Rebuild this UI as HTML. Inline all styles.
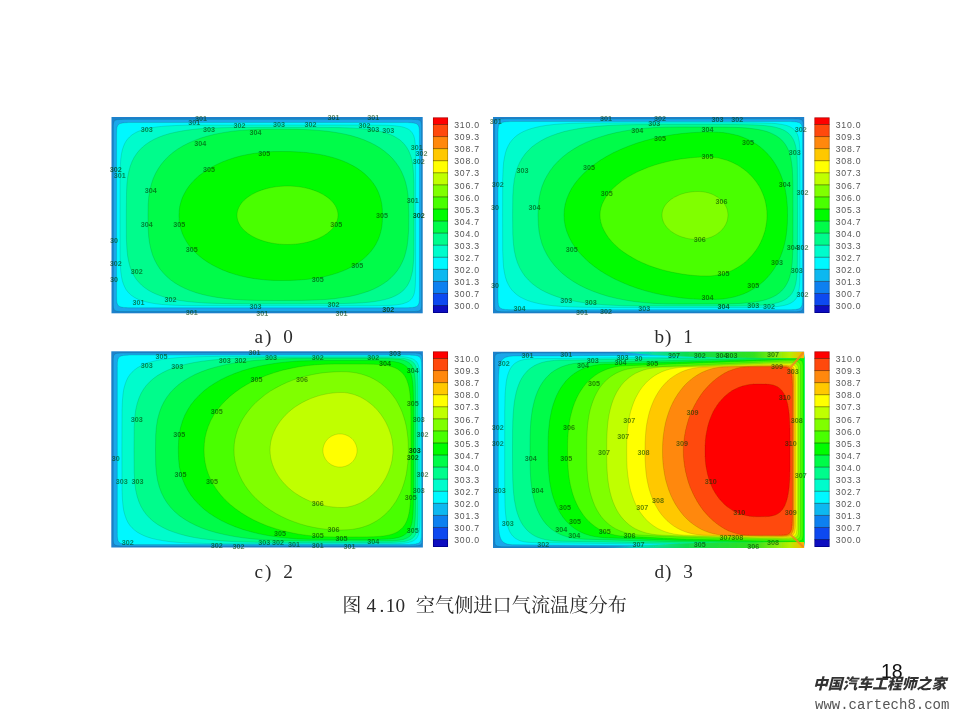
<!DOCTYPE html>
<html lang="zh"><head><meta charset="utf-8"><title>图 4.10 空气侧进口气流温度分布</title>
<style>
html,body{margin:0;padding:0;background:#fff;}
body{width:960px;height:720px;position:relative;overflow:hidden;font-family:"Liberation Serif","Noto Serif CJK SC",serif;}
.cl{font-family:"Liberation Sans",sans-serif;font-size:8.7px;letter-spacing:0.8px;fill:#555;}
.tk{font-family:"Liberation Sans",sans-serif;font-size:7.2px;font-weight:bold;fill:#003808;text-anchor:middle;}
.t{position:absolute;white-space:pre;color:#2a2a2a;font-size:19.2px;line-height:24px;height:24px;font-family:"Liberation Serif","Noto Serif CJK SC",serif;}
.cap{letter-spacing:0;}
.pg{position:absolute;left:880.9px;top:659.9px;font-family:"Liberation Sans",sans-serif;font-size:19.5px;line-height:22px;color:#111;}
.wm{position:absolute;left:813px;top:673px;width:136px;font-family:"Liberation Sans","Noto Sans CJK SC",sans-serif;font-weight:900;font-style:italic;font-size:14.8px;line-height:22px;color:#333;white-space:nowrap;}
.url{position:absolute;left:815px;top:696px;font-family:"Liberation Mono",monospace;font-size:14px;line-height:18px;color:#555;white-space:nowrap;}
</style></head><body>
<svg width="960" height="720" viewBox="0 0 960 720" style="position:absolute;left:0;top:0">
<defs><linearGradient id="wg" gradientUnits="userSpaceOnUse" x1="600" y1="0" x2="804" y2="0"><stop offset="0" stop-color="#10d0e0" stop-opacity="0"/><stop offset="0.2" stop-color="#00e8b0" stop-opacity="0.85"/><stop offset="0.42" stop-color="#10dc50"/><stop offset="0.75" stop-color="#30e020"/><stop offset="0.93" stop-color="#b8ee00"/><stop offset="1" stop-color="#ffb000"/></linearGradient><filter id="bl" x="-2%" y="-2%" width="104%" height="104%"><feGaussianBlur stdDeviation="0.7"/></filter><filter id="bt" x="-5%" y="-5%" width="110%" height="110%"><feGaussianBlur stdDeviation="0.4"/></filter><filter id="bk" x="-5%" y="-5%" width="110%" height="110%"><feGaussianBlur stdDeviation="0.7"/></filter></defs>
<clipPath id="cpA"><rect x="111.5" y="117" width="311" height="196.3"/></clipPath><clipPath id="cpD"><rect x="493" y="351.5" width="311.3" height="196.5"/></clipPath>
<g filter="url(#bl)">
<rect x="111.5" y="117.0" width="311.2" height="196.3" fill="#1f82cc"/>
<polygon points="113.3,215.5 113.3,127.7 113.3,125.6 113.4,124.4 113.5,123.5 113.6,122.9 113.7,122.3 113.9,121.9 114.0,121.5 114.2,121.2 114.5,120.9 114.8,120.6 115.1,120.4 115.4,120.2 115.8,120.0 116.3,119.9 116.8,119.8 117.4,119.6 118.2,119.6 119.0,119.5 120.1,119.4 121.5,119.4 123.4,119.3 126.7,119.3 223.0,119.3 408.2,119.3 411.5,119.3 413.4,119.4 414.8,119.4 415.9,119.5 416.7,119.6 417.5,119.6 418.1,119.8 418.6,119.9 419.1,120.0 419.5,120.2 419.8,120.4 420.1,120.6 420.4,120.9 420.7,121.2 420.9,121.5 421.0,121.9 421.2,122.3 421.3,122.9 421.4,123.5 421.5,124.4 421.6,125.6 421.6,127.7 421.6,215.5 421.6,303.2 421.6,305.3 421.5,306.5 421.4,307.4 421.3,308.0 421.2,308.6 421.0,309.0 420.9,309.4 420.7,309.7 420.4,310.0 420.1,310.3 419.8,310.5 419.5,310.7 419.1,310.9 418.6,311.0 418.1,311.1 417.5,311.3 416.7,311.3 415.9,311.4 414.8,311.5 413.4,311.5 411.5,311.6 408.2,311.6 311.9,311.6 126.7,311.6 123.4,311.6 121.5,311.5 120.1,311.5 119.0,311.4 118.2,311.3 117.4,311.3 116.8,311.1 116.3,311.0 115.8,310.9 115.4,310.7 115.1,310.5 114.8,310.3 114.5,310.0 114.2,309.7 114.0,309.4 113.9,309.0 113.7,308.6 113.6,308.0 113.5,307.4 113.4,306.5 113.3,305.3 113.3,303.2" fill="#1aa6ea" stroke="rgba(0,40,0,0.22)" stroke-width="0.6"/>
<polygon points="116.6,215.2 116.6,134.3 116.7,131.5 116.7,129.8 116.9,128.6 117.0,127.6 117.2,126.8 117.4,126.2 117.7,125.7 118.0,125.2 118.3,124.8 118.7,124.4 119.2,124.1 119.7,123.8 120.3,123.6 121.0,123.4 121.8,123.2 122.7,123.0 123.7,122.9 125.0,122.8 126.5,122.7 128.5,122.6 131.3,122.5 135.9,122.5 244.6,122.5 400.1,122.5 404.7,122.5 407.5,122.6 409.5,122.7 411.0,122.8 412.3,122.9 413.3,123.0 414.2,123.2 415.0,123.4 415.7,123.6 416.3,123.8 416.8,124.1 417.3,124.4 417.7,124.8 418.0,125.2 418.3,125.7 418.6,126.2 418.8,126.8 419.0,127.6 419.1,128.6 419.3,129.8 419.3,131.5 419.4,134.3 419.4,215.2 419.4,296.0 419.3,298.8 419.3,300.5 419.1,301.7 419.0,302.7 418.8,303.5 418.6,304.1 418.3,304.6 418.0,305.1 417.7,305.5 417.3,305.9 416.8,306.2 416.3,306.5 415.7,306.7 415.0,306.9 414.2,307.1 413.3,307.3 412.3,307.4 411.0,307.5 409.5,307.6 407.5,307.7 404.7,307.8 400.1,307.8 291.4,307.8 135.9,307.8 131.3,307.8 128.5,307.7 126.5,307.6 125.0,307.5 123.7,307.4 122.7,307.3 121.8,307.1 121.0,306.9 120.3,306.7 119.7,306.5 119.2,306.2 118.7,305.9 118.3,305.5 118.0,305.1 117.7,304.6 117.4,304.1 117.2,303.5 117.0,302.7 116.9,301.7 116.7,300.5 116.7,298.8 116.6,296.0" fill="#00f8ff" stroke="rgba(0,40,0,0.22)" stroke-width="0.6"/>
<polygon points="120.0,215.0 120.1,173.7 120.4,164.7 120.8,158.6 121.5,153.8 122.3,149.9 123.4,146.6 124.6,143.7 126.0,141.2 127.7,138.9 129.6,136.9 131.7,135.1 134.1,133.5 136.8,132.0 139.8,130.8 143.2,129.6 146.9,128.6 151.2,127.8 156.0,127.0 161.5,126.4 168.1,125.9 176.0,125.5 186.2,125.2 201.2,125.1 270.0,125.0 368.6,125.0 378.9,125.1 385.3,125.2 390.0,125.4 393.8,125.7 396.9,126.0 399.6,126.4 401.9,126.8 403.9,127.3 405.6,127.9 407.2,128.6 408.6,129.3 409.8,130.2 410.9,131.2 411.8,132.2 412.6,133.5 413.4,134.9 414.0,136.5 414.5,138.5 414.9,140.8 415.2,143.7 415.4,147.7 415.6,154.0 415.6,215.0 415.6,276.5 415.4,282.9 415.2,286.9 414.9,289.9 414.5,292.2 414.0,294.2 413.4,295.8 412.6,297.2 411.8,298.5 410.9,299.6 409.8,300.6 408.6,301.4 407.2,302.2 405.6,302.8 403.9,303.4 401.9,304.0 399.6,304.4 396.9,304.8 393.8,305.1 390.0,305.4 385.3,305.5 378.9,305.7 368.6,305.8 270.7,305.8 201.2,305.7 186.2,305.6 176.0,305.3 168.1,304.9 161.5,304.4 156.0,303.8 151.2,303.0 146.9,302.1 143.2,301.1 139.8,300.0 136.8,298.7 134.1,297.2 131.7,295.6 129.6,293.8 127.7,291.8 126.0,289.5 124.6,286.9 123.4,284.0 122.3,280.7 121.5,276.7 120.8,271.9 120.4,265.7 120.1,256.7" fill="#00fccc" stroke="rgba(0,40,0,0.22)" stroke-width="0.6"/>
<polygon points="126.3,215.0 126.5,193.3 126.9,184.1 127.7,177.1 128.9,171.1 130.3,166.0 132.1,161.4 134.2,157.3 136.7,153.5 139.5,150.1 142.6,147.0 146.1,144.2 150.0,141.6 154.3,139.2 159.0,137.1 164.2,135.2 169.9,133.5 176.1,132.1 183.0,130.8 190.6,129.7 199.1,128.8 209.0,128.2 220.7,127.7 236.0,127.4 272.0,127.3 323.7,127.4 338.8,127.6 349.5,127.9 358.1,128.4 365.3,129.1 371.5,129.8 377.0,130.8 381.8,131.8 386.2,133.1 390.2,134.5 393.7,136.1 396.9,137.9 399.8,139.8 402.3,142.0 404.6,144.5 406.6,147.2 408.4,150.2 409.9,153.6 411.2,157.4 412.2,161.8 413.0,167.1 413.5,173.7 413.9,183.1 414.0,215.0 413.9,250.8 413.6,260.0 413.1,266.5 412.4,271.6 411.4,275.8 410.3,279.5 408.9,282.7 407.4,285.5 405.5,288.0 403.5,290.3 401.1,292.3 398.5,294.1 395.6,295.7 392.3,297.2 388.7,298.5 384.7,299.6 380.2,300.6 375.1,301.5 369.3,302.2 362.5,302.8 354.4,303.2 344.0,303.5 329.2,303.7 272.0,303.8 232.2,303.7 216.7,303.4 205.1,303.0 195.5,302.3 187.1,301.5 179.8,300.5 173.2,299.3 167.3,297.9 161.9,296.3 157.0,294.5 152.5,292.5 148.5,290.3 144.8,287.8 141.5,285.1 138.6,282.1 135.9,278.8 133.7,275.2 131.7,271.2 130.0,266.7 128.7,261.7 127.6,255.8 126.9,248.7 126.4,239.2" fill="#00fc8c" stroke="rgba(0,40,0,0.22)" stroke-width="0.6"/>
<polygon points="148.0,215.0 148.2,204.0 148.8,196.5 149.9,190.0 151.4,184.1 153.2,178.6 155.5,173.4 158.3,168.6 161.4,164.1 164.9,159.9 168.8,156.0 173.2,152.3 177.9,148.9 183.1,145.8 188.6,143.0 194.6,140.4 201.0,138.0 207.8,136.0 215.0,134.2 222.8,132.7 231.1,131.4 240.1,130.4 250.0,129.8 261.4,129.3 278.0,129.2 296.6,129.3 308.5,129.7 318.7,130.4 327.8,131.3 336.1,132.5 343.8,133.9 351.0,135.6 357.7,137.6 363.9,139.8 369.7,142.3 375.1,145.0 380.1,148.0 384.6,151.3 388.8,154.8 392.6,158.6 396.0,162.7 399.0,167.1 401.6,171.8 403.8,176.9 405.6,182.3 407.0,188.3 408.0,195.0 408.5,202.8 408.8,215.0 408.6,230.5 408.0,238.9 407.2,245.8 405.9,251.7 404.4,257.1 402.4,261.9 400.2,266.3 397.5,270.4 394.5,274.2 391.1,277.7 387.4,280.9 383.3,283.8 378.8,286.5 373.9,289.0 368.6,291.2 362.8,293.1 356.5,294.9 349.7,296.4 342.3,297.6 334.2,298.7 325.1,299.5 314.6,300.0 301.8,300.4 278.0,300.5 256.9,300.4 244.5,300.0 234.3,299.4 225.2,298.5 217.0,297.4 209.5,296.1 202.5,294.5 196.1,292.7 190.1,290.6 184.6,288.3 179.5,285.7 174.8,282.9 170.5,279.8 166.6,276.4 163.1,272.8 159.9,268.9 157.1,264.6 154.7,260.1 152.6,255.1 151.0,249.7 149.7,243.8 148.7,237.0 148.2,228.9" fill="#00fc48" stroke="rgba(0,40,0,0.22)" stroke-width="0.6"/>
<polygon points="179.0,215.5 179.2,210.7 179.8,206.3 180.9,202.0 182.3,197.8 184.2,193.8 186.4,189.9 189.0,186.1 192.1,182.4 195.4,178.9 199.2,175.6 203.3,172.5 207.7,169.5 212.4,166.7 217.4,164.2 222.7,161.8 228.3,159.7 234.1,157.8 240.1,156.1 246.4,154.7 252.8,153.6 259.5,152.7 266.3,152.0 273.4,151.6 281.0,151.5 291.0,151.6 298.9,152.0 306.3,152.5 313.1,153.4 319.6,154.4 325.8,155.7 331.7,157.2 337.3,158.9 342.5,160.8 347.5,162.9 352.2,165.3 356.6,167.8 360.6,170.6 364.4,173.6 367.7,176.7 370.8,180.0 373.5,183.5 375.9,187.2 377.9,191.1 379.5,195.2 380.8,199.6 381.8,204.2 382.3,209.2 382.5,215.5 382.3,221.9 381.8,227.0 380.8,231.7 379.5,236.1 377.9,240.2 375.9,244.2 373.5,248.0 370.8,251.5 367.7,254.9 364.4,258.1 360.6,261.1 356.6,263.9 352.2,266.5 347.5,268.9 342.5,271.1 337.3,273.0 331.7,274.7 325.8,276.3 319.6,277.6 313.1,278.6 306.3,279.4 298.9,280.0 291.0,280.4 281.0,280.5 273.4,280.4 266.3,280.0 259.5,279.3 252.8,278.4 246.4,277.2 240.1,275.8 234.1,274.1 228.3,272.2 222.7,270.0 217.4,267.6 212.4,265.0 207.7,262.2 203.3,259.2 199.2,256.0 195.4,252.6 192.1,249.1 189.0,245.4 186.4,241.5 184.2,237.6 182.3,233.4 180.9,229.2 179.8,224.8 179.2,220.3" fill="#00fc00" stroke="rgba(0,40,0,0.22)" stroke-width="0.6"/>
<polygon points="237.0,215.2 237.1,213.3 237.4,211.4 238.0,209.5 238.7,207.7 239.7,205.8 240.8,204.1 242.2,202.3 243.8,200.6 245.5,199.0 247.4,197.4 249.5,196.0 251.8,194.6 254.2,193.3 256.8,192.0 259.4,190.9 262.2,189.9 265.2,189.0 268.2,188.2 271.3,187.6 274.4,187.0 277.6,186.6 280.9,186.3 284.2,186.1 287.5,186.0 290.8,186.1 294.1,186.3 297.4,186.6 300.6,187.0 303.7,187.6 306.8,188.2 309.8,189.0 312.8,189.9 315.6,190.9 318.2,192.0 320.8,193.3 323.2,194.6 325.5,196.0 327.6,197.4 329.5,199.0 331.2,200.6 332.8,202.3 334.2,204.1 335.3,205.8 336.3,207.7 337.0,209.5 337.6,211.4 337.9,213.3 338.0,215.2 337.9,217.2 337.6,219.1 337.0,221.0 336.3,222.8 335.3,224.7 334.2,226.4 332.8,228.2 331.2,229.9 329.5,231.5 327.6,233.1 325.5,234.5 323.2,235.9 320.8,237.2 318.2,238.5 315.6,239.6 312.8,240.6 309.8,241.5 306.8,242.3 303.7,242.9 300.6,243.5 297.4,243.9 294.1,244.2 290.8,244.4 287.5,244.5 284.2,244.4 280.9,244.2 277.6,243.9 274.4,243.5 271.3,242.9 268.2,242.3 265.2,241.5 262.2,240.6 259.4,239.6 256.8,238.5 254.2,237.2 251.8,235.9 249.5,234.5 247.4,233.1 245.5,231.5 243.8,229.9 242.2,228.2 240.8,226.4 239.7,224.7 238.7,222.8 238.0,221.0 237.4,219.1 237.1,217.2" fill="#48ff00" stroke="rgba(0,40,0,0.22)" stroke-width="0.6"/>
<rect x="493.0" y="117.0" width="311.2" height="196.3" fill="#1f82cc"/>
<polygon points="494.6,215.3 494.6,127.2 494.6,125.1 494.7,123.9 494.8,123.1 494.9,122.4 495.0,121.8 495.2,121.4 495.3,121.0 495.5,120.7 495.8,120.4 496.1,120.1 496.4,119.9 496.7,119.7 497.1,119.5 497.6,119.4 498.1,119.3 498.7,119.1 499.5,119.1 500.3,119.0 501.4,118.9 502.8,118.9 504.7,118.8 508.0,118.8 604.5,118.8 789.9,118.8 793.2,118.8 795.1,118.9 796.5,118.9 797.6,119.0 798.4,119.1 799.2,119.1 799.8,119.3 800.3,119.4 800.8,119.5 801.2,119.7 801.5,119.9 801.8,120.1 802.1,120.4 802.4,120.7 802.6,121.0 802.7,121.4 802.9,121.8 803.0,122.4 803.1,123.1 803.2,123.9 803.3,125.1 803.3,127.2 803.3,215.3 803.3,303.4 803.3,305.5 803.2,306.7 803.1,307.5 803.0,308.2 802.9,308.8 802.7,309.2 802.6,309.6 802.4,309.9 802.1,310.2 801.8,310.5 801.5,310.7 801.2,310.9 800.8,311.1 800.3,311.2 799.8,311.3 799.2,311.5 798.4,311.5 797.6,311.6 796.5,311.7 795.1,311.7 793.2,311.8 789.9,311.8 693.4,311.8 508.0,311.8 504.7,311.8 502.8,311.7 501.4,311.7 500.3,311.6 499.5,311.5 498.7,311.5 498.1,311.3 497.6,311.2 497.1,311.1 496.7,310.9 496.4,310.7 496.1,310.5 495.8,310.2 495.5,309.9 495.3,309.6 495.2,309.2 495.0,308.8 494.9,308.2 494.8,307.5 494.7,306.7 494.6,305.5 494.6,303.4" fill="#1aa6ea" stroke="rgba(0,40,0,0.22)" stroke-width="0.6"/>
<polygon points="498.0,215.7 498.0,133.5 498.1,130.6 498.1,128.9 498.3,127.7 498.4,126.7 498.6,125.9 498.8,125.3 499.1,124.7 499.4,124.2 499.8,123.8 500.2,123.4 500.6,123.1 501.1,122.8 501.7,122.6 502.4,122.4 503.2,122.2 504.1,122.0 505.1,121.9 506.4,121.8 507.9,121.7 509.9,121.6 512.7,121.5 517.4,121.5 626.7,121.5 783.1,121.5 787.8,121.5 790.6,121.6 792.6,121.7 794.1,121.8 795.4,121.9 796.4,122.0 797.3,122.2 798.1,122.4 798.8,122.6 799.4,122.8 799.9,123.1 800.3,123.4 800.7,123.8 801.1,124.2 801.4,124.7 801.7,125.3 801.9,125.9 802.1,126.7 802.2,127.7 802.4,128.9 802.4,130.6 802.5,133.5 802.5,215.7 802.5,297.8 802.4,300.7 802.4,302.4 802.2,303.6 802.1,304.6 801.9,305.4 801.7,306.0 801.4,306.6 801.1,307.1 800.7,307.5 800.3,307.9 799.9,308.2 799.4,308.5 798.8,308.7 798.1,308.9 797.3,309.1 796.4,309.3 795.4,309.4 794.1,309.5 792.6,309.6 790.6,309.7 787.8,309.8 783.1,309.8 673.8,309.8 517.4,309.8 512.7,309.8 509.9,309.7 507.9,309.6 506.4,309.5 505.1,309.4 504.1,309.3 503.2,309.1 502.4,308.9 501.7,308.7 501.1,308.5 500.6,308.2 500.2,307.9 499.8,307.5 499.4,307.1 499.1,306.6 498.8,306.0 498.6,305.4 498.4,304.6 498.3,303.6 498.1,302.4 498.1,300.7 498.0,297.8" fill="#00f8ff" stroke="rgba(0,40,0,0.22)" stroke-width="0.6"/>
<polygon points="502.6,215.0 502.7,179.0 503.1,169.3 503.6,162.5 504.5,157.1 505.5,152.7 506.8,148.8 508.4,145.4 510.2,142.4 512.3,139.7 514.7,137.3 517.3,135.1 520.3,133.2 523.7,131.4 527.4,129.9 531.5,128.5 536.1,127.3 541.2,126.2 547.0,125.3 553.6,124.5 561.2,123.9 570.4,123.4 582.0,123.1 598.5,122.9 660.0,122.8 748.9,122.8 759.7,122.9 766.6,123.1 771.8,123.3 775.9,123.6 779.3,124.0 782.2,124.5 784.7,125.0 786.9,125.6 788.9,126.3 790.6,127.1 792.1,128.0 793.5,129.0 794.7,130.1 795.8,131.4 796.7,132.9 797.5,134.5 798.2,136.4 798.7,138.7 799.2,141.4 799.5,144.8 799.8,149.3 799.9,156.5 800.0,215.0 799.9,273.7 799.8,280.9 799.5,285.4 799.2,288.8 798.7,291.6 798.2,293.8 797.5,295.7 796.7,297.4 795.8,298.9 794.7,300.2 793.5,301.3 792.1,302.3 790.6,303.2 788.9,304.0 786.9,304.7 784.7,305.3 782.2,305.8 779.3,306.3 775.9,306.7 771.8,307.0 766.6,307.2 759.7,307.4 748.9,307.5 660.3,307.5 598.5,307.4 582.0,307.2 570.4,306.9 561.2,306.4 553.6,305.8 547.0,305.0 541.2,304.1 536.1,303.0 531.5,301.8 527.4,300.4 523.7,298.8 520.3,297.1 517.3,295.1 514.7,292.9 512.3,290.5 510.2,287.8 508.4,284.8 506.8,281.4 505.5,277.5 504.5,273.0 503.6,267.6 503.1,260.8 502.7,251.1" fill="#00fccc" stroke="rgba(0,40,0,0.22)" stroke-width="0.6"/>
<polygon points="512.6,215.0 512.8,196.0 513.4,186.7 514.3,179.4 515.7,173.2 517.4,167.7 519.6,162.7 522.1,158.2 525.0,154.1 528.4,150.3 532.1,146.8 536.3,143.7 540.9,140.8 545.9,138.1 551.5,135.7 557.5,133.6 564.1,131.6 571.2,130.0 579.1,128.5 587.7,127.3 597.3,126.3 608.1,125.5 620.8,124.9 636.9,124.6 670.0,124.5 734.5,124.5 746.6,124.7 754.7,124.9 760.9,125.3 766.0,125.7 770.3,126.3 774.0,126.9 777.2,127.7 780.1,128.6 782.6,129.6 784.9,130.7 786.9,132.0 788.7,133.4 790.3,135.1 791.8,136.9 793.0,138.9 794.1,141.2 795.0,143.8 795.8,146.9 796.4,150.4 796.9,154.9 797.2,160.6 797.4,169.2 797.5,215.0 797.4,261.0 797.2,269.7 796.9,275.5 796.4,279.9 795.8,283.5 795.0,286.6 794.1,289.2 793.0,291.5 791.8,293.6 790.3,295.4 788.7,297.0 786.9,298.4 784.9,299.7 782.6,300.9 780.1,301.9 777.2,302.8 774.0,303.6 770.3,304.2 766.0,304.8 760.9,305.2 754.7,305.6 746.6,305.8 734.5,306.0 670.0,306.0 636.9,305.9 620.8,305.6 608.1,305.0 597.3,304.2 587.7,303.2 579.1,302.0 571.2,300.5 564.1,298.8 557.5,296.9 551.5,294.7 545.9,292.3 540.9,289.7 536.3,286.7 532.1,283.5 528.4,280.0 525.0,276.2 522.1,272.1 519.6,267.6 517.4,262.6 515.7,257.0 514.3,250.8 513.4,243.4 512.8,234.2" fill="#00fc8c" stroke="rgba(0,40,0,0.22)" stroke-width="0.6"/>
<polygon points="538.0,215.0 538.3,205.9 539.0,198.9 540.3,192.5 542.0,186.5 544.3,180.8 547.1,175.5 550.3,170.4 554.0,165.6 558.2,161.1 562.9,156.8 568.0,152.8 573.6,149.1 579.6,145.6 586.1,142.4 593.0,139.5 600.3,136.9 608.0,134.6 616.2,132.6 624.9,130.9 634.0,129.5 643.6,128.4 654.0,127.6 665.4,127.2 680.0,127.0 720.4,127.1 732.4,127.3 741.0,127.6 747.9,128.1 753.6,128.8 758.6,129.6 763.1,130.5 767.0,131.6 770.5,132.9 773.7,134.4 776.6,136.0 779.1,137.8 781.5,139.8 783.5,142.0 785.4,144.5 787.0,147.3 788.5,150.3 789.7,153.8 790.7,157.7 791.5,162.2 792.2,167.5 792.6,174.2 792.9,183.6 793.0,215.0 792.9,246.8 792.6,256.3 792.2,263.0 791.5,268.4 790.7,273.0 789.7,276.9 788.5,280.4 787.0,283.5 785.4,286.3 783.5,288.8 781.5,291.1 779.1,293.1 776.6,294.9 773.7,296.6 770.5,298.0 767.0,299.3 763.1,300.4 758.6,301.4 753.6,302.2 747.9,302.8 741.0,303.4 732.4,303.7 720.4,303.9 680.0,304.0 665.4,303.8 654.0,303.4 643.6,302.6 634.0,301.5 624.9,300.0 616.2,298.3 608.0,296.3 600.3,293.9 593.0,291.3 586.1,288.4 579.6,285.2 573.6,281.7 568.0,277.9 562.9,273.9 558.2,269.5 554.0,264.9 550.3,260.1 547.1,255.0 544.3,249.6 542.0,243.9 540.3,237.8 539.0,231.3 538.3,224.2" fill="#00fc48" stroke="rgba(0,40,0,0.22)" stroke-width="0.6"/>
<polygon points="564.0,215.0 564.3,209.6 565.2,204.2 566.8,198.8 569.0,193.5 571.7,188.3 575.1,183.2 579.1,178.3 583.6,173.5 588.6,168.9 594.2,164.5 600.2,160.3 606.8,156.3 613.7,152.6 621.1,149.2 628.9,146.0 637.0,143.1 645.4,140.6 654.1,138.3 663.1,136.4 672.2,134.8 681.5,133.6 690.9,132.7 700.5,132.2 710.0,132.0 717.2,132.2 723.2,132.6 728.7,133.4 733.9,134.5 738.9,135.8 743.6,137.5 748.1,139.5 752.4,141.8 756.5,144.3 760.3,147.1 764.0,150.2 767.3,153.6 770.5,157.2 773.4,161.1 776.0,165.2 778.4,169.6 780.5,174.2 782.3,179.0 783.9,184.1 785.2,189.4 786.2,195.0 786.9,200.9 787.4,207.3 787.5,215.0 787.4,222.9 786.9,229.4 786.2,235.4 785.2,241.1 783.9,246.5 782.3,251.7 780.5,256.6 778.4,261.2 776.0,265.7 773.4,269.9 770.5,273.8 767.3,277.5 764.0,280.9 760.3,284.1 756.5,287.0 752.4,289.6 748.1,291.9 743.6,293.9 738.9,295.6 733.9,297.0 728.7,298.1 723.2,298.9 717.2,299.3 710.0,299.5 700.5,299.3 690.9,298.8 681.5,297.9 672.2,296.6 663.1,295.0 654.1,293.1 645.4,290.8 637.0,288.2 628.9,285.3 621.1,282.0 613.7,278.5 606.8,274.8 600.2,270.7 594.2,266.4 588.6,261.9 583.6,257.2 579.1,252.4 575.1,247.3 571.7,242.2 569.0,236.9 566.8,231.5 565.2,226.0 564.3,220.5" fill="#00fc00" stroke="rgba(0,40,0,0.22)" stroke-width="0.6"/>
<polygon points="600.0,215.0 600.2,211.6 600.9,208.0 602.1,204.3 603.8,200.7 605.9,197.1 608.4,193.6 611.4,190.1 614.8,186.7 618.6,183.5 622.8,180.3 627.4,177.3 632.3,174.5 637.5,171.8 643.0,169.4 648.8,167.1 654.8,165.0 661.1,163.2 667.5,161.6 674.0,160.2 680.6,159.0 687.3,158.2 694.0,157.5 700.7,157.1 707.0,157.0 710.9,157.1 714.8,157.5 718.7,158.1 722.5,159.0 726.3,160.1 730.0,161.4 733.5,163.0 737.0,164.8 740.3,166.8 743.5,169.0 746.6,171.4 749.4,174.0 752.1,176.8 754.6,179.7 756.9,182.8 759.0,186.0 760.8,189.3 762.4,192.8 763.8,196.4 765.0,200.0 765.8,203.7 766.5,207.4 766.9,211.2 767.0,215.0 766.9,219.0 766.5,223.0 765.8,226.9 765.0,230.8 763.8,234.6 762.4,238.3 760.8,242.0 759.0,245.5 756.9,248.9 754.6,252.1 752.1,255.2 749.4,258.1 746.6,260.9 743.5,263.4 740.3,265.7 737.0,267.8 733.5,269.7 730.0,271.4 726.3,272.8 722.5,273.9 718.7,274.8 714.8,275.5 710.9,275.9 707.0,276.0 700.7,275.9 694.0,275.5 687.3,274.8 680.6,273.8 674.0,272.6 667.5,271.2 661.1,269.5 654.8,267.6 648.8,265.4 643.0,263.0 637.5,260.4 632.3,257.6 627.4,254.6 622.8,251.5 618.6,248.2 614.8,244.7 611.4,241.2 608.4,237.5 605.9,233.8 603.8,230.0 602.1,226.2 600.9,222.4 600.2,218.6" fill="#48ff00" stroke="rgba(0,40,0,0.22)" stroke-width="0.6"/>
<polygon points="662.0,215.0 662.1,213.5 662.3,211.9 662.7,210.4 663.2,208.9 663.9,207.4 664.7,206.0 665.7,204.6 666.8,203.2 668.1,201.9 669.4,200.7 670.9,199.5 672.5,198.4 674.3,197.3 676.1,196.4 678.0,195.5 680.0,194.6 682.1,193.9 684.2,193.3 686.4,192.7 688.7,192.3 691.0,192.0 693.3,191.7 695.6,191.6 698.0,191.5 700.0,191.6 701.9,191.7 703.9,192.0 705.8,192.3 707.6,192.7 709.5,193.3 711.3,193.9 713.0,194.6 714.7,195.5 716.3,196.4 717.8,197.3 719.2,198.4 720.6,199.5 721.8,200.7 722.9,201.9 724.0,203.2 724.9,204.6 725.7,206.0 726.4,207.4 727.0,208.9 727.4,210.4 727.7,211.9 727.9,213.5 728.0,215.0 727.9,216.6 727.7,218.2 727.4,219.8 727.0,221.3 726.4,222.9 725.7,224.4 724.9,225.8 724.0,227.2 722.9,228.6 721.8,229.9 720.6,231.2 719.2,232.3 717.8,233.4 716.3,234.4 714.7,235.4 713.0,236.2 711.3,237.0 709.5,237.6 707.6,238.2 705.8,238.7 703.9,239.0 701.9,239.3 700.0,239.4 698.0,239.5 695.6,239.4 693.3,239.3 691.0,239.0 688.7,238.7 686.4,238.2 684.2,237.6 682.1,237.0 680.0,236.2 678.0,235.4 676.1,234.4 674.3,233.4 672.5,232.3 670.9,231.2 669.4,229.9 668.1,228.6 666.8,227.2 665.7,225.8 664.7,224.4 663.9,222.9 663.2,221.3 662.7,219.8 662.3,218.2 662.1,216.6" fill="#80ff00" stroke="rgba(0,40,0,0.22)" stroke-width="0.6"/>
<rect x="111.3" y="351.3" width="311.6" height="196.2" fill="#1f82cc"/>
<polygon points="113.2,449.5 113.2,361.4 113.2,359.3 113.3,358.1 113.4,357.3 113.5,356.6 113.6,356.0 113.8,355.6 113.9,355.2 114.1,354.9 114.4,354.6 114.7,354.3 115.0,354.1 115.3,353.9 115.7,353.7 116.2,353.6 116.7,353.5 117.3,353.3 118.1,353.3 118.9,353.2 120.0,353.1 121.4,353.1 123.3,353.0 126.6,353.0 223.2,353.0 408.9,353.0 412.2,353.0 414.1,353.1 415.5,353.1 416.6,353.2 417.4,353.3 418.2,353.3 418.8,353.5 419.3,353.6 419.8,353.7 420.2,353.9 420.5,354.1 420.8,354.3 421.1,354.6 421.4,354.9 421.6,355.2 421.7,355.6 421.9,356.0 422.0,356.6 422.1,357.3 422.2,358.1 422.3,359.3 422.3,361.4 422.3,449.5 422.3,537.6 422.3,539.7 422.2,540.9 422.1,541.7 422.0,542.4 421.9,543.0 421.7,543.4 421.6,543.8 421.4,544.1 421.1,544.4 420.8,544.7 420.5,544.9 420.2,545.1 419.8,545.3 419.3,545.4 418.8,545.5 418.2,545.7 417.4,545.7 416.6,545.8 415.5,545.9 414.1,545.9 412.2,546.0 408.9,546.0 312.3,546.0 126.6,546.0 123.3,546.0 121.4,545.9 120.0,545.9 118.9,545.8 118.1,545.7 117.3,545.7 116.7,545.5 116.2,545.4 115.7,545.3 115.3,545.1 115.0,544.9 114.7,544.7 114.4,544.4 114.1,544.1 113.9,543.8 113.8,543.4 113.6,543.0 113.5,542.4 113.4,541.7 113.3,540.9 113.2,539.7 113.2,537.6" fill="#1aa6ea" stroke="rgba(0,40,0,0.22)" stroke-width="0.6"/>
<polygon points="117.3,449.8 117.3,367.1 117.4,364.2 117.4,362.4 117.6,361.2 117.7,360.2 117.9,359.4 118.1,358.8 118.4,358.2 118.7,357.7 119.1,357.3 119.5,357.0 119.9,356.6 120.4,356.3 121.0,356.1 121.7,355.9 122.5,355.7 123.4,355.5 124.4,355.4 125.7,355.3 127.2,355.2 129.2,355.1 132.0,355.0 136.7,355.0 245.9,355.0 402.1,355.0 406.8,355.0 409.6,355.1 411.6,355.2 413.1,355.3 414.4,355.4 415.4,355.5 416.3,355.7 417.1,355.9 417.8,356.1 418.4,356.3 418.9,356.6 419.3,357.0 419.7,357.3 420.1,357.7 420.4,358.2 420.7,358.8 420.9,359.4 421.1,360.2 421.2,361.2 421.4,362.4 421.4,364.2 421.5,367.1 421.5,449.8 421.5,532.4 421.4,535.3 421.4,537.1 421.2,538.3 421.1,539.3 420.9,540.1 420.7,540.7 420.4,541.3 420.1,541.8 419.7,542.2 419.3,542.5 418.9,542.9 418.4,543.2 417.8,543.4 417.1,543.6 416.3,543.8 415.4,544.0 414.4,544.1 413.1,544.2 411.6,544.3 409.6,544.4 406.8,544.5 402.1,544.5 292.9,544.5 136.7,544.5 132.0,544.5 129.2,544.4 127.2,544.3 125.7,544.2 124.4,544.1 123.4,544.0 122.5,543.8 121.7,543.6 121.0,543.4 120.4,543.2 119.9,542.9 119.5,542.5 119.1,542.2 118.7,541.8 118.4,541.3 118.1,540.7 117.9,540.1 117.7,539.3 117.6,538.3 117.4,537.1 117.4,535.3 117.3,532.4" fill="#00f8ff" stroke="rgba(0,40,0,0.22)" stroke-width="0.6"/>
<polygon points="121.9,450.0 122.0,410.5 122.4,400.9 123.0,394.2 123.8,388.9 125.0,384.6 126.3,380.9 127.9,377.6 129.8,374.7 132.0,372.2 134.5,369.9 137.3,367.8 140.5,366.0 144.0,364.3 147.9,362.8 152.2,361.5 157.1,360.4 162.5,359.4 168.7,358.5 175.8,357.8 184.0,357.2 194.0,356.8 206.7,356.5 225.1,356.3 300.0,356.2 385.3,356.2 393.0,356.3 397.8,356.4 401.3,356.6 404.1,356.8 406.4,357.1 408.4,357.5 410.0,357.9 411.5,358.3 412.8,358.9 413.9,359.5 414.9,360.2 415.8,361.0 416.6,361.8 417.3,362.8 417.9,364.0 418.4,365.3 418.8,366.8 419.2,368.6 419.5,370.8 419.7,373.5 419.9,377.3 420.0,383.3 420.0,450.0 420.0,516.7 419.9,522.7 419.7,526.5 419.5,529.2 419.2,531.4 418.8,533.2 418.4,534.7 417.9,536.0 417.3,537.2 416.6,538.2 415.8,539.0 414.9,539.8 413.9,540.5 412.8,541.1 411.5,541.7 410.0,542.1 408.4,542.5 406.4,542.9 404.1,543.2 401.3,543.4 397.8,543.6 393.0,543.7 385.3,543.8 301.1,543.8 225.1,543.7 206.7,543.5 194.0,543.2 184.0,542.8 175.8,542.2 168.7,541.5 162.5,540.6 157.1,539.6 152.2,538.5 147.9,537.2 144.0,535.7 140.5,534.0 137.3,532.2 134.5,530.1 132.0,527.8 129.8,525.3 127.9,522.4 126.3,519.1 125.0,515.4 123.8,511.1 123.0,505.8 122.4,499.1 122.0,489.5" fill="#00fccc" stroke="rgba(0,40,0,0.22)" stroke-width="0.6"/>
<polygon points="134.0,450.0 134.2,427.2 134.8,417.4 135.7,410.0 137.1,403.7 138.9,398.3 141.0,393.5 143.6,389.1 146.5,385.2 149.9,381.6 153.7,378.3 157.9,375.3 162.7,372.6 167.8,370.1 173.6,367.9 179.8,365.9 186.7,364.1 194.2,362.5 202.5,361.2 211.7,360.1 222.0,359.1 233.9,358.4 248.1,357.9 266.5,357.6 310.0,357.5 383.2,357.5 390.7,357.6 395.5,357.8 399.0,358.0 401.8,358.2 404.2,358.5 406.1,358.9 407.8,359.4 409.3,359.9 410.6,360.5 411.8,361.2 412.8,362.0 413.7,362.8 414.5,363.8 415.2,364.9 415.8,366.2 416.3,367.7 416.8,369.4 417.2,371.3 417.5,373.7 417.7,376.8 417.9,380.8 418.0,387.3 418.0,450.0 418.0,512.7 417.9,519.2 417.7,523.2 417.5,526.3 417.2,528.7 416.8,530.6 416.3,532.3 415.8,533.8 415.2,535.1 414.5,536.2 413.7,537.2 412.8,538.0 411.8,538.8 410.6,539.5 409.3,540.1 407.8,540.6 406.1,541.1 404.2,541.5 401.8,541.8 399.0,542.0 395.5,542.2 390.7,542.4 383.2,542.5 310.5,542.5 266.5,542.4 248.1,542.1 233.9,541.6 222.0,540.9 211.7,539.9 202.5,538.8 194.2,537.5 186.7,535.9 179.8,534.1 173.6,532.1 167.8,529.9 162.7,527.4 157.9,524.7 153.7,521.7 149.9,518.4 146.5,514.8 143.6,510.9 141.0,506.5 138.9,501.7 137.1,496.3 135.7,490.0 134.8,482.6 134.2,472.8" fill="#00fc8c" stroke="rgba(0,40,0,0.22)" stroke-width="0.6"/>
<polygon points="155.5,450.0 155.7,435.1 156.4,426.5 157.6,419.2 159.3,412.8 161.4,407.1 164.0,401.8 167.0,396.9 170.5,392.4 174.5,388.2 179.0,384.3 184.0,380.7 189.4,377.4 195.4,374.3 201.8,371.6 208.8,369.1 216.4,366.9 224.5,364.9 233.3,363.2 242.8,361.8 253.2,360.6 264.7,359.7 277.7,359.0 293.3,358.6 320.0,358.5 380.6,358.5 388.0,358.6 392.7,358.8 396.2,359.0 399.0,359.3 401.4,359.7 403.4,360.1 405.1,360.7 406.6,361.3 407.9,362.0 409.1,362.7 410.1,363.6 411.1,364.6 411.9,365.8 412.6,367.0 413.2,368.5 413.8,370.1 414.2,372.0 414.6,374.3 414.9,377.0 415.2,380.3 415.4,384.8 415.5,391.9 415.5,450.0 415.5,507.8 415.4,514.8 415.2,519.3 414.9,522.6 414.6,525.3 414.2,527.5 413.8,529.4 413.2,531.1 412.6,532.5 411.9,533.8 411.1,534.9 410.1,535.9 409.1,536.8 407.9,537.6 406.6,538.2 405.1,538.8 403.4,539.4 401.4,539.8 399.0,540.2 396.2,540.5 392.7,540.7 388.0,540.9 380.6,541.0 320.2,541.0 293.3,540.9 277.7,540.5 264.7,539.8 253.2,538.9 242.8,537.8 233.3,536.3 224.5,534.6 216.4,532.7 208.8,530.5 201.8,528.0 195.4,525.2 189.4,522.2 184.0,518.9 179.0,515.4 174.5,511.5 170.5,507.3 167.0,502.8 164.0,498.0 161.4,492.7 159.3,487.0 157.6,480.6 156.4,473.4 155.7,464.8" fill="#00fc48" stroke="rgba(0,40,0,0.22)" stroke-width="0.6"/>
<polygon points="178.3,450.0 178.6,440.8 179.3,433.6 180.7,427.1 182.5,421.0 184.8,415.2 187.7,409.8 191.0,404.6 194.9,399.8 199.2,395.2 204.0,390.8 209.3,386.7 215.1,383.0 221.3,379.4 228.0,376.2 235.1,373.3 242.7,370.6 250.7,368.3 259.1,366.2 268.0,364.5 277.4,363.0 287.4,361.9 298.1,361.1 309.9,360.7 325.0,360.5 373.3,360.5 381.3,360.7 386.5,360.9 390.5,361.2 393.8,361.6 396.5,362.1 398.8,362.6 400.9,363.3 402.7,364.1 404.3,365.0 405.7,366.0 406.9,367.1 408.1,368.4 409.1,369.8 409.9,371.5 410.7,373.3 411.4,375.3 412.0,377.7 412.4,380.5 412.8,383.7 413.1,387.8 413.3,393.1 413.5,401.2 413.5,450.0 413.5,498.8 413.3,506.9 413.1,512.2 412.8,516.3 412.4,519.5 412.0,522.3 411.4,524.7 410.7,526.7 409.9,528.5 409.1,530.2 408.1,531.6 406.9,532.9 405.7,534.0 404.3,535.0 402.7,535.9 400.9,536.7 398.8,537.4 396.5,537.9 393.8,538.4 390.5,538.8 386.5,539.1 381.3,539.3 373.3,539.5 325.0,539.5 309.9,539.3 298.1,538.9 287.4,538.1 277.4,537.0 268.0,535.5 259.1,533.8 250.7,531.7 242.7,529.4 235.1,526.7 228.0,523.8 221.3,520.6 215.1,517.0 209.3,513.3 204.0,509.2 199.2,504.8 194.9,500.2 191.0,495.4 187.7,490.2 184.8,484.8 182.5,479.0 180.7,472.9 179.3,466.4 178.6,459.2" fill="#00fc00" stroke="rgba(0,40,0,0.22)" stroke-width="0.6"/>
<polygon points="204.0,450.0 204.3,443.6 205.1,437.6 206.4,431.9 208.3,426.3 210.6,420.8 213.5,415.5 216.9,410.5 220.8,405.6 225.1,400.9 229.9,396.4 235.2,392.2 240.8,388.2 246.9,384.5 253.3,381.0 260.2,377.9 267.3,375.0 274.8,372.5 282.5,370.2 290.6,368.4 298.8,366.8 307.4,365.6 316.2,364.7 325.2,364.2 335.0,364.0 365.6,364.1 373.6,364.2 379.1,364.6 383.4,365.0 387.1,365.5 390.2,366.2 392.9,367.1 395.3,368.0 397.5,369.1 399.4,370.4 401.1,371.8 402.7,373.4 404.1,375.1 405.4,377.1 406.5,379.3 407.4,381.7 408.3,384.5 409.0,387.6 409.6,391.1 410.1,395.2 410.5,400.1 410.8,406.4 410.9,415.4 411.0,450.0 410.9,485.1 410.8,494.1 410.5,500.5 410.1,505.4 409.6,509.6 409.0,513.2 408.3,516.3 407.4,519.1 406.5,521.5 405.4,523.7 404.1,525.7 402.7,527.5 401.1,529.1 399.4,530.5 397.5,531.8 395.3,532.9 392.9,533.9 390.2,534.7 387.1,535.4 383.4,536.0 379.1,536.4 373.6,536.8 365.6,536.9 335.0,537.0 325.2,536.8 316.2,536.3 307.4,535.4 298.8,534.2 290.6,532.6 282.5,530.7 274.8,528.4 267.3,525.9 260.2,523.0 253.3,519.8 246.9,516.3 240.8,512.5 235.2,508.5 229.9,504.2 225.1,499.7 220.8,495.0 216.9,490.0 213.5,484.9 210.6,479.5 208.3,474.0 206.4,468.3 205.1,462.5 204.3,456.5" fill="#48ff00" stroke="rgba(0,40,0,0.22)" stroke-width="0.6"/>
<polygon points="234.0,450.0 234.2,444.9 234.9,439.8 236.1,434.7 237.6,429.7 239.7,424.8 242.1,420.0 245.0,415.4 248.3,410.9 252.0,406.5 256.1,402.3 260.6,398.4 265.3,394.6 270.4,391.1 275.9,387.9 281.6,384.9 287.5,382.2 293.7,379.8 300.1,377.7 306.6,375.9 313.3,374.4 320.1,373.2 327.0,372.4 334.0,371.9 341.0,371.7 347.0,371.8 352.0,372.3 356.7,373.0 361.2,374.1 365.5,375.4 369.7,377.0 373.6,378.9 377.3,381.1 380.9,383.5 384.3,386.3 387.5,389.2 390.5,392.5 393.2,395.9 395.8,399.6 398.1,403.6 400.2,407.7 402.1,412.1 403.7,416.7 405.1,421.4 406.3,426.5 407.1,431.7 407.8,437.2 408.2,443.1 408.3,450.0 408.2,457.1 407.8,463.1 407.1,468.7 406.3,474.1 405.1,479.2 403.7,484.1 402.1,488.7 400.2,493.2 398.1,497.4 395.8,501.5 393.2,505.2 390.5,508.8 387.5,512.1 384.3,515.1 380.9,517.9 377.3,520.4 373.6,522.6 369.7,524.6 365.5,526.2 361.2,527.6 356.7,528.6 352.0,529.4 347.0,529.8 341.0,530.0 334.0,529.8 327.0,529.3 320.1,528.5 313.3,527.3 306.6,525.8 300.1,523.9 293.7,521.7 287.5,519.3 281.6,516.5 275.9,513.5 270.4,510.1 265.3,506.6 260.6,502.7 256.1,498.7 252.0,494.4 248.3,490.0 245.0,485.4 242.1,480.6 239.7,475.7 237.6,470.7 236.1,465.6 234.9,460.4 234.2,455.2" fill="#80ff00" stroke="rgba(0,40,0,0.22)" stroke-width="0.6"/>
<polygon points="270.0,450.0 270.2,446.5 270.6,442.9 271.4,439.2 272.5,435.6 273.9,432.0 275.6,428.5 277.6,425.1 279.8,421.8 282.4,418.5 285.2,415.4 288.2,412.5 291.4,409.7 294.9,407.1 298.6,404.7 302.5,402.4 306.5,400.4 310.6,398.6 314.9,397.0 319.3,395.6 323.8,394.5 328.3,393.6 332.8,393.0 337.3,392.6 341.7,392.5 344.6,392.6 347.7,393.0 350.9,393.7 354.1,394.6 357.2,395.7 360.4,397.1 363.4,398.7 366.4,400.6 369.3,402.7 372.1,404.9 374.8,407.4 377.3,410.1 379.7,412.9 381.9,415.9 383.9,419.0 385.8,422.3 387.4,425.6 388.9,429.1 390.1,432.6 391.2,436.1 392.0,439.7 392.5,443.3 392.9,446.7 393.0,450.0 392.9,453.3 392.5,456.7 392.0,460.3 391.2,463.9 390.1,467.4 388.9,470.9 387.4,474.4 385.8,477.7 383.9,481.0 381.9,484.1 379.7,487.1 377.3,489.9 374.8,492.6 372.1,495.1 369.3,497.3 366.4,499.4 363.4,501.3 360.4,502.9 357.2,504.3 354.1,505.4 350.9,506.3 347.7,507.0 344.6,507.4 341.7,507.5 337.3,507.4 332.8,507.0 328.3,506.4 323.8,505.5 319.3,504.4 314.9,503.0 310.6,501.4 306.5,499.6 302.5,497.6 298.6,495.3 294.9,492.9 291.4,490.3 288.2,487.5 285.2,484.6 282.4,481.5 279.8,478.2 277.6,474.9 275.6,471.5 273.9,468.0 272.5,464.4 271.4,460.8 270.6,457.1 270.2,453.5" fill="#c0ff00" stroke="rgba(0,40,0,0.22)" stroke-width="0.6"/>
<polygon points="323.0,450.5 323.0,449.4 323.1,448.3 323.3,447.3 323.6,446.2 323.9,445.2 324.3,444.2 324.8,443.2 325.3,442.2 325.9,441.3 326.5,440.5 327.2,439.6 328.0,438.8 328.8,438.1 329.7,437.4 330.6,436.8 331.5,436.2 332.5,435.7 333.5,435.3 334.5,434.9 335.6,434.6 336.7,434.3 337.8,434.1 338.9,434.0 340.0,434.0 341.1,434.0 342.2,434.1 343.3,434.3 344.4,434.6 345.5,434.9 346.5,435.3 347.5,435.7 348.5,436.2 349.4,436.8 350.3,437.4 351.2,438.1 352.0,438.8 352.8,439.6 353.5,440.5 354.1,441.3 354.7,442.2 355.2,443.2 355.7,444.2 356.1,445.2 356.4,446.2 356.7,447.3 356.9,448.3 357.0,449.4 357.0,450.5 357.0,451.6 356.9,452.7 356.7,453.7 356.4,454.8 356.1,455.8 355.7,456.8 355.2,457.8 354.7,458.8 354.1,459.7 353.5,460.5 352.8,461.4 352.0,462.2 351.2,462.9 350.3,463.6 349.4,464.2 348.5,464.8 347.5,465.3 346.5,465.7 345.5,466.1 344.4,466.4 343.3,466.7 342.2,466.9 341.1,467.0 340.0,467.0 338.9,467.0 337.8,466.9 336.7,466.7 335.6,466.4 334.5,466.1 333.5,465.7 332.5,465.3 331.5,464.8 330.6,464.2 329.7,463.6 328.8,462.9 328.0,462.2 327.2,461.4 326.5,460.5 325.9,459.7 325.3,458.8 324.8,457.8 324.3,456.8 323.9,455.8 323.6,454.8 323.3,453.7 323.1,452.7 323.0,451.6" fill="#ffff00" stroke="rgba(0,40,0,0.22)" stroke-width="0.6"/>
<g clip-path="url(#cpD)"><rect x="493.0" y="351.5" width="311.3" height="196.5" fill="#1f82cc"/>
<polygon points="494.6,449.9 494.6,361.4 494.6,359.4 494.7,358.1 494.8,357.3 494.9,356.6 495.0,356.1 495.2,355.6 495.3,355.2 495.5,354.9 495.8,354.6 496.1,354.3 496.4,354.1 496.7,353.9 497.1,353.7 497.6,353.6 498.1,353.5 498.8,353.4 499.5,353.3 500.3,353.2 501.4,353.1 502.8,353.1 504.8,353.0 508.1,353.0 604.8,353.0 790.8,353.0 794.1,353.0 796.1,353.1 797.5,353.1 798.6,353.2 799.4,353.3 800.1,353.4 800.8,353.5 801.3,353.6 801.8,353.7 802.2,353.9 802.5,354.1 802.8,354.3 803.1,354.6 803.4,354.9 803.6,355.2 803.7,355.6 803.9,356.1 804.0,356.6 804.1,357.3 804.2,358.1 804.3,359.4 804.3,361.4 804.3,449.9 804.3,538.4 804.3,540.4 804.2,541.7 804.1,542.5 804.0,543.2 803.9,543.7 803.7,544.2 803.6,544.6 803.4,544.9 803.1,545.2 802.8,545.5 802.5,545.7 802.2,545.9 801.8,546.1 801.3,546.2 800.8,546.3 800.1,546.4 799.4,546.5 798.6,546.6 797.5,546.7 796.1,546.7 794.1,546.8 790.8,546.8 694.1,546.8 508.1,546.8 504.8,546.8 502.8,546.7 501.4,546.7 500.3,546.6 499.5,546.5 498.8,546.4 498.1,546.3 497.6,546.2 497.1,546.1 496.7,545.9 496.4,545.7 496.1,545.5 495.8,545.2 495.5,544.9 495.3,544.6 495.2,544.2 495.0,543.7 494.9,543.2 494.8,542.5 494.7,541.7 494.6,540.4 494.6,538.4" fill="#1aa6ea" stroke="rgba(0,40,0,0.22)" stroke-width="0.6"/>
<polygon points="498.3,451.0 498.3,390.7 498.4,383.3 498.5,378.7 498.6,375.2 498.8,372.4 499.0,370.1 499.2,368.1 499.5,366.4 499.9,364.9 500.3,363.5 500.7,362.4 501.2,361.3 501.8,360.4 502.4,359.6 503.1,358.9 503.9,358.3 504.9,357.7 505.9,357.2 507.2,356.9 508.7,356.5 510.6,356.3 513.2,356.1 517.2,356.0 549.9,356.0 805.7,354.2 811.6,354.2 815.2,354.3 817.7,354.3 819.6,354.4 821.2,354.5 822.5,354.6 823.6,354.7 824.6,354.8 825.4,354.9 826.1,355.1 826.8,355.3 827.4,355.5 827.8,355.8 828.3,356.1 828.7,356.4 829.0,356.8 829.3,357.3 829.5,357.8 829.7,358.5 829.8,359.3 829.9,360.6 830.0,362.6 830.0,451.0 830.0,537.7 829.9,539.8 829.8,541.0 829.7,541.8 829.5,542.5 829.3,543.0 829.0,543.5 828.7,543.8 828.3,544.2 827.8,544.4 827.4,544.7 826.8,544.9 826.1,545.1 825.4,545.3 824.6,545.4 823.6,545.5 822.5,545.7 821.2,545.7 819.6,545.8 817.7,545.9 815.2,545.9 811.6,546.0 805.7,546.0 630.7,545.4 517.2,544.8 513.2,544.7 510.6,544.5 508.7,544.3 507.2,544.0 505.9,543.6 504.9,543.1 503.9,542.6 503.1,542.0 502.4,541.3 501.8,540.4 501.2,539.5 500.7,538.5 500.3,537.4 499.9,536.0 499.5,534.6 499.2,532.9 499.0,530.9 498.8,528.6 498.6,525.9 498.5,522.4 498.4,517.8 498.3,510.5" fill="#00f8ff" stroke="rgba(0,40,0,0.22)" stroke-width="0.6"/>
<polygon points="504.7,451.0 504.7,412.6 504.9,403.0 505.0,396.4 505.3,391.2 505.7,386.9 506.1,383.1 506.6,379.9 507.2,377.0 507.9,374.5 508.7,372.2 509.6,370.1 510.5,368.3 511.7,366.6 512.9,365.2 514.3,363.8 515.8,362.7 517.5,361.7 519.4,360.8 521.7,360.1 524.2,359.5 527.4,359.1 531.3,358.8 537.1,358.6 560.0,358.5 806.5,355.3 812.3,355.3 815.7,355.4 818.1,355.4 820.0,355.5 821.5,355.6 822.8,355.6 823.8,355.8 824.8,355.9 825.6,356.0 826.3,356.2 826.9,356.4 827.4,356.6 827.9,356.9 828.3,357.2 828.7,357.5 829.0,357.9 829.3,358.3 829.5,358.9 829.7,359.5 829.8,360.4 829.9,361.6 830.0,363.6 830.0,451.0 830.0,536.8 829.9,538.8 829.8,540.0 829.7,540.9 829.5,541.5 829.3,542.0 829.0,542.5 828.7,542.9 828.3,543.2 827.9,543.5 827.4,543.7 826.9,543.9 826.3,544.1 825.6,544.3 824.8,544.4 823.8,544.5 822.8,544.7 821.5,544.8 820.0,544.8 818.1,544.9 815.7,544.9 812.3,545.0 806.5,545.0 637.8,543.9 537.1,542.7 531.3,542.5 527.4,542.2 524.2,541.8 521.7,541.2 519.4,540.5 517.5,539.6 515.8,538.6 514.3,537.5 512.9,536.2 511.7,534.7 510.5,533.1 509.6,531.3 508.7,529.2 507.9,526.9 507.2,524.4 506.6,521.6 506.1,518.3 505.7,514.7 505.3,510.4 505.0,505.2 504.9,498.6 504.7,489.1" fill="#00fccc" stroke="rgba(0,40,0,0.22)" stroke-width="0.6"/>
<polygon points="512.5,451.0 512.6,430.6 512.8,421.2 513.2,413.8 513.7,407.6 514.3,402.1 515.2,397.2 516.1,392.8 517.2,388.8 518.5,385.1 519.9,381.7 521.5,378.6 523.3,375.7 525.3,373.2 527.4,370.8 529.7,368.8 532.3,366.9 535.0,365.3 538.1,363.9 541.4,362.7 545.2,361.7 549.5,361.0 554.5,360.4 561.0,360.1 575.0,360.0 807.8,356.2 813.3,356.2 816.5,356.3 818.8,356.3 820.5,356.4 822.0,356.5 823.2,356.5 824.2,356.7 825.1,356.8 825.8,356.9 826.5,357.1 827.1,357.3 827.6,357.5 828.0,357.8 828.4,358.0 828.8,358.4 829.1,358.7 829.3,359.2 829.5,359.7 829.7,360.4 829.8,361.2 829.9,362.4 830.0,364.4 830.0,451.0 830.0,536.2 829.9,538.2 829.8,539.4 829.7,540.2 829.5,540.8 829.3,541.4 829.1,541.8 828.8,542.2 828.4,542.5 828.0,542.8 827.6,543.0 827.1,543.2 826.5,543.4 825.8,543.6 825.1,543.7 824.2,543.9 823.2,544.0 822.0,544.1 820.5,544.1 818.8,544.2 816.5,544.2 813.3,544.3 807.8,544.3 648.5,542.8 561.0,541.2 554.5,540.9 549.5,540.3 545.2,539.6 541.4,538.6 538.1,537.5 535.0,536.1 532.3,534.5 529.7,532.6 527.4,530.5 525.3,528.2 523.3,525.7 521.5,522.9 519.9,519.8 518.5,516.4 517.2,512.8 516.1,508.8 515.2,504.3 514.3,499.5 513.7,494.1 513.2,487.9 512.8,480.6 512.6,471.3" fill="#00fc8c" stroke="rgba(0,40,0,0.22)" stroke-width="0.6"/>
<polygon points="530.0,451.0 530.1,436.9 530.4,428.5 530.8,421.6 531.5,415.4 532.3,409.8 533.4,404.7 534.6,399.9 536.0,395.5 537.6,391.4 539.4,387.6 541.4,384.1 543.5,380.9 545.9,378.0 548.5,375.3 551.2,372.8 554.2,370.7 557.5,368.8 561.0,367.1 564.7,365.7 568.8,364.5 573.4,363.6 578.5,363.0 584.6,362.6 595.0,362.5 809.6,357.0 814.6,357.1 817.5,357.1 819.6,357.1 821.3,357.2 822.6,357.3 823.7,357.3 824.6,357.5 825.4,357.6 826.1,357.7 826.8,357.9 827.3,358.1 827.8,358.3 828.2,358.5 828.6,358.8 828.9,359.1 829.1,359.5 829.4,360.0 829.6,360.5 829.7,361.1 829.8,362.0 829.9,363.2 830.0,365.2 830.0,451.0 830.0,535.5 829.9,537.4 829.8,538.6 829.7,539.4 829.6,540.1 829.4,540.6 829.1,541.0 828.9,541.4 828.6,541.7 828.2,542.0 827.8,542.2 827.3,542.4 826.8,542.6 826.1,542.8 825.4,542.9 824.6,543.1 823.7,543.2 822.6,543.3 821.3,543.3 819.6,543.4 817.5,543.4 814.6,543.5 809.6,543.5 662.7,541.4 584.6,539.2 578.5,538.8 573.4,538.2 568.8,537.3 564.7,536.1 561.0,534.7 557.5,533.1 554.2,531.1 551.2,529.0 548.5,526.6 545.9,523.9 543.5,520.9 541.4,517.7 539.4,514.2 537.6,510.4 536.0,506.4 534.6,502.0 533.4,497.2 532.3,492.1 531.5,486.5 530.8,480.4 530.4,473.4 530.1,465.1" fill="#00fc48" stroke="rgba(0,40,0,0.22)" stroke-width="0.6"/>
<polygon points="548.0,451.0 548.1,440.3 548.4,432.8 549.0,426.3 549.7,420.2 550.7,414.7 551.8,409.4 553.2,404.6 554.8,400.0 556.6,395.6 558.6,391.6 560.8,387.8 563.2,384.4 565.8,381.1 568.6,378.2 571.6,375.5 574.9,373.1 578.3,371.0 582.0,369.1 585.9,367.6 590.0,366.3 594.5,365.3 599.4,364.6 605.0,364.1 613.0,364.0 811.1,358.1 815.8,358.1 818.5,358.1 820.4,358.1 821.9,358.2 823.2,358.3 824.2,358.3 825.0,358.4 825.8,358.6 826.4,358.7 827.0,358.9 827.5,359.1 827.9,359.3 828.3,359.5 828.7,359.8 829.0,360.1 829.2,360.5 829.4,360.9 829.6,361.5 829.7,362.1 829.9,362.9 829.9,364.1 830.0,366.1 830.0,451.0 830.0,534.8 829.9,536.8 829.9,537.9 829.7,538.8 829.6,539.4 829.4,539.9 829.2,540.3 829.0,540.7 828.7,541.0 828.3,541.3 827.9,541.5 827.5,541.7 827.0,541.9 826.4,542.1 825.8,542.2 825.0,542.4 824.2,542.5 823.2,542.6 821.9,542.6 820.4,542.7 818.5,542.7 815.8,542.8 811.1,542.8 675.5,540.3 605.0,537.7 599.4,537.2 594.5,536.5 590.0,535.5 585.9,534.2 582.0,532.7 578.3,530.8 574.9,528.7 571.6,526.3 568.6,523.6 565.8,520.7 563.2,517.5 560.8,514.0 558.6,510.3 556.6,506.2 554.8,501.9 553.2,497.3 551.8,492.5 550.7,487.3 549.7,481.7 549.0,475.7 548.4,469.1 548.1,461.7" fill="#00fc00" stroke="rgba(0,40,0,0.22)" stroke-width="0.6"/>
<polygon points="567.5,451.0 567.6,441.9 568.0,434.9 568.5,428.6 569.3,422.8 570.3,417.3 571.6,412.1 573.0,407.2 574.7,402.6 576.6,398.2 578.7,394.1 581.1,390.2 583.6,386.6 586.3,383.3 589.2,380.3 592.4,377.5 595.7,375.0 599.2,372.8 602.9,370.9 606.9,369.2 611.0,367.9 615.5,366.8 620.3,366.1 625.5,365.7 632.5,365.5 788.2,359.6 791.8,359.6 794.0,359.6 795.5,359.6 796.7,359.7 797.6,359.7 798.4,359.8 799.1,359.9 799.7,360.1 800.2,360.2 800.6,360.4 801.0,360.6 801.4,360.8 801.7,361.0 802.0,361.3 802.2,361.6 802.4,362.0 802.6,362.4 802.7,362.9 802.8,363.5 802.9,364.4 803.0,365.5 803.0,367.5 803.0,451.0 803.0,533.6 803.0,535.6 802.9,536.7 802.8,537.5 802.7,538.1 802.6,538.6 802.4,539.1 802.2,539.4 802.0,539.7 801.7,540.0 801.4,540.3 801.0,540.5 800.6,540.6 800.2,540.8 799.7,540.9 799.1,541.1 798.4,541.2 797.6,541.3 796.7,541.3 795.5,541.4 794.0,541.4 791.8,541.5 788.2,541.5 681.6,539.0 625.5,536.3 620.3,535.9 615.5,535.2 611.0,534.1 606.9,532.8 602.9,531.1 599.2,529.2 595.7,527.0 592.4,524.5 589.2,521.7 586.3,518.7 583.6,515.4 581.1,511.8 578.7,507.9 576.6,503.8 574.7,499.4 573.0,494.8 571.6,489.9 570.3,484.7 569.3,479.2 568.5,473.4 568.0,467.1 567.6,460.1" fill="#48ff00" stroke="rgba(0,40,0,0.22)" stroke-width="0.6"/>
<polygon points="586.7,451.0 586.8,439.5 587.1,432.0 587.6,425.5 588.3,419.7 589.2,414.3 590.3,409.3 591.7,404.7 593.2,400.4 594.9,396.3 596.8,392.5 598.9,389.0 601.2,385.8 603.7,382.8 606.5,380.1 609.4,377.6 612.5,375.4 615.9,373.4 619.5,371.7 623.3,370.3 627.5,369.1 632.0,368.2 637.0,367.5 642.8,367.1 651.7,367.0 785.1,361.1 788.9,361.1 791.1,361.1 792.7,361.1 793.9,361.2 794.9,361.3 795.7,361.4 796.4,361.5 797.0,361.7 797.6,361.8 798.0,362.0 798.5,362.2 798.8,362.5 799.1,362.8 799.4,363.1 799.6,363.5 799.9,363.9 800.0,364.4 800.2,365.0 800.3,365.7 800.4,366.7 800.4,368.0 800.5,370.3 800.5,451.0 800.5,530.8 800.4,533.0 800.4,534.4 800.3,535.3 800.2,536.0 800.0,536.6 799.9,537.1 799.6,537.6 799.4,537.9 799.1,538.3 798.8,538.5 798.5,538.8 798.0,539.0 797.6,539.2 797.0,539.3 796.4,539.5 795.7,539.6 794.9,539.7 793.9,539.8 792.7,539.9 791.1,539.9 788.9,539.9 785.1,539.9 685.1,537.2 642.8,535.2 637.0,534.8 632.0,534.1 627.5,533.2 623.3,532.0 619.5,530.6 615.9,528.9 612.5,526.9 609.4,524.7 606.5,522.2 603.7,519.5 601.2,516.5 598.9,513.2 596.8,509.7 594.9,505.9 593.2,501.8 591.7,497.5 590.3,492.8 589.2,487.8 588.3,482.4 587.6,476.6 587.1,470.1 586.8,462.5" fill="#80ff00" stroke="rgba(0,40,0,0.22)" stroke-width="0.6"/>
<polygon points="606.7,451.0 606.8,439.3 607.1,431.7 607.6,425.2 608.3,419.3 609.2,414.0 610.3,409.0 611.6,404.4 613.1,400.1 614.8,396.0 616.7,392.3 618.8,388.8 621.1,385.6 623.6,382.6 626.3,379.9 629.2,377.5 632.3,375.3 635.6,373.3 639.2,371.7 643.1,370.2 647.2,369.1 651.7,368.2 656.8,367.5 662.6,367.1 671.7,367.0 782.3,362.6 786.2,362.6 788.6,362.6 790.2,362.7 791.5,362.8 792.6,362.9 793.4,363.0 794.2,363.1 794.8,363.3 795.4,363.5 795.9,363.8 796.3,364.0 796.7,364.3 797.0,364.7 797.3,365.1 797.6,365.5 797.8,366.0 798.0,366.7 798.2,367.4 798.3,368.3 798.4,369.4 798.4,371.1 798.5,373.8 798.5,451.0 798.5,527.6 798.4,530.3 798.4,531.9 798.3,533.1 798.2,534.0 798.0,534.7 797.8,535.3 797.6,535.8 797.3,536.3 797.0,536.6 796.7,537.0 796.3,537.3 795.9,537.6 795.4,537.8 794.8,538.0 794.2,538.2 793.4,538.3 792.6,538.4 791.5,538.6 790.2,538.6 788.6,538.7 786.2,538.7 782.3,538.7 691.3,536.3 662.6,535.2 656.8,534.8 651.7,534.1 647.2,533.2 643.1,532.0 639.2,530.6 635.6,528.9 632.3,527.0 629.2,524.8 626.3,522.3 623.6,519.6 621.1,516.6 618.8,513.4 616.7,509.9 614.8,506.1 613.1,502.1 611.6,497.8 610.3,493.1 609.2,488.1 608.3,482.8 607.6,476.9 607.1,470.4 606.8,462.8" fill="#c0ff00" stroke="rgba(0,40,0,0.22)" stroke-width="0.6"/>
<polygon points="626.7,451.0 626.8,441.3 627.1,434.2 627.7,427.9 628.5,422.1 629.4,416.8 630.6,411.7 632.1,406.9 633.7,402.4 635.5,398.2 637.6,394.3 639.8,390.6 642.3,387.1 644.9,384.0 647.8,381.0 650.9,378.4 654.1,376.0 657.6,373.9 661.3,372.1 665.2,370.5 669.4,369.3 673.8,368.3 678.7,367.6 684.2,367.1 691.7,367.0 779.5,363.9 783.6,363.9 786.1,363.9 787.9,364.0 789.3,364.1 790.5,364.3 791.4,364.4 792.2,364.6 793.0,364.9 793.6,365.1 794.1,365.4 794.6,365.8 795.0,366.2 795.4,366.6 795.7,367.2 796.0,367.7 796.2,368.4 796.4,369.2 796.6,370.2 796.8,371.3 796.9,372.8 796.9,374.9 797.0,378.3 797.0,451.0 797.0,523.4 796.9,526.8 796.9,528.8 796.8,530.3 796.6,531.5 796.4,532.4 796.2,533.2 796.0,533.9 795.7,534.5 795.4,535.0 795.0,535.4 794.6,535.8 794.1,536.2 793.6,536.5 793.0,536.7 792.2,537.0 791.4,537.2 790.5,537.3 789.3,537.5 787.9,537.6 786.1,537.7 783.6,537.7 779.5,537.7 700.4,535.7 684.2,535.2 678.7,534.7 673.8,534.0 669.4,533.0 665.2,531.7 661.3,530.2 657.6,528.4 654.1,526.2 650.9,523.9 647.8,521.2 644.9,518.3 642.3,515.1 639.8,511.7 637.6,507.9 635.5,504.0 633.7,499.7 632.1,495.2 630.6,490.5 629.4,485.4 628.5,480.0 627.7,474.2 627.1,467.9 626.8,460.8" fill="#ffff00" stroke="rgba(0,40,0,0.22)" stroke-width="0.6"/>
<polygon points="645.0,451.0 645.1,442.3 645.5,435.5 646.0,429.3 646.8,423.6 647.9,418.2 649.1,413.1 650.6,408.3 652.3,403.7 654.2,399.4 656.4,395.3 658.7,391.5 661.2,387.9 664.0,384.6 666.9,381.6 670.1,378.8 673.4,376.4 677.0,374.2 680.7,372.2 684.7,370.6 688.8,369.3 693.3,368.2 698.0,367.5 703.2,367.0 710.0,366.9 778.7,364.9 782.6,364.9 785.0,365.0 786.7,365.1 788.1,365.2 789.2,365.4 790.1,365.6 790.9,365.8 791.6,366.1 792.2,366.4 792.7,366.7 793.2,367.2 793.6,367.6 793.9,368.2 794.2,368.8 794.5,369.5 794.8,370.2 795.0,371.2 795.1,372.3 795.3,373.6 795.4,375.4 795.4,377.8 795.5,381.7 795.5,451.0 795.5,520.1 795.4,524.1 795.4,526.5 795.3,528.2 795.1,529.5 795.0,530.6 794.8,531.6 794.5,532.4 794.2,533.0 793.9,533.7 793.6,534.2 793.2,534.6 792.7,535.1 792.2,535.4 791.6,535.7 790.9,536.0 790.1,536.2 789.2,536.4 788.1,536.6 786.7,536.7 785.0,536.8 782.6,536.9 778.7,536.9 714.3,535.5 703.2,535.2 698.0,534.7 693.3,534.0 688.8,532.9 684.7,531.6 680.7,529.9 677.0,528.0 673.4,525.8 670.1,523.3 666.9,520.6 664.0,517.5 661.2,514.2 658.7,510.7 656.4,506.8 654.2,502.8 652.3,498.4 650.6,493.8 649.1,489.0 647.9,483.9 646.8,478.5 646.0,472.7 645.5,466.6 645.1,459.8" fill="#ffc800" stroke="rgba(0,40,0,0.22)" stroke-width="0.6"/>
<polygon points="662.5,451.0 662.6,444.5 663.0,438.6 663.7,432.9 664.6,427.3 665.7,422.0 667.2,416.8 668.8,411.9 670.7,407.1 672.8,402.5 675.2,398.2 677.8,394.1 680.6,390.2 683.5,386.6 686.7,383.2 690.1,380.2 693.6,377.4 697.3,375.0 701.1,372.8 705.1,371.0 709.2,369.5 713.5,368.3 717.9,367.5 722.5,367.0 727.5,366.8 778.1,365.8 781.7,365.8 784.0,365.9 785.6,366.0 786.9,366.2 787.9,366.4 788.8,366.6 789.5,366.9 790.2,367.3 790.8,367.7 791.3,368.1 791.7,368.6 792.1,369.2 792.5,369.8 792.8,370.6 793.1,371.4 793.3,372.4 793.5,373.5 793.6,374.9 793.8,376.5 793.9,378.6 793.9,381.4 794.0,386.1 794.0,451.0 794.0,515.9 793.9,520.5 793.9,523.4 793.8,525.4 793.6,527.1 793.5,528.4 793.3,529.5 793.1,530.5 792.8,531.3 792.5,532.1 792.1,532.7 791.7,533.3 791.3,533.8 790.8,534.2 790.2,534.6 789.5,535.0 788.8,535.3 787.9,535.5 786.9,535.7 785.6,535.9 784.0,536.0 781.7,536.1 778.1,536.1 729.1,535.3 722.5,535.1 717.9,534.6 713.5,533.8 709.2,532.6 705.1,531.1 701.1,529.3 697.3,527.1 693.6,524.6 690.1,521.9 686.7,518.8 683.5,515.5 680.6,511.9 677.8,508.0 675.2,503.9 672.8,499.5 670.7,495.0 668.8,490.2 667.2,485.2 665.7,480.0 664.6,474.7 663.7,469.2 663.0,463.5 662.6,457.5" fill="#ff8808" stroke="rgba(0,40,0,0.22)" stroke-width="0.6"/>
<polygon points="683.3,451.0 683.4,446.0 683.9,440.8 684.6,435.5 685.6,430.2 686.9,425.0 688.4,419.8 690.2,414.8 692.3,409.9 694.6,405.2 697.2,400.6 699.9,396.3 702.9,392.1 706.1,388.3 709.4,384.7 712.9,381.4 716.6,378.4 720.4,375.7 724.3,373.3 728.2,371.3 732.3,369.7 736.3,368.4 740.4,367.4 744.4,366.9 748.3,366.7 779.7,366.7 782.6,366.8 784.3,366.9 785.6,367.1 786.7,367.3 787.5,367.5 788.2,367.8 788.8,368.2 789.4,368.6 789.8,369.1 790.3,369.7 790.6,370.3 791.0,371.0 791.2,371.8 791.5,372.7 791.7,373.7 791.9,374.9 792.1,376.2 792.2,377.8 792.3,379.8 792.4,382.3 792.5,385.6 792.5,391.1 792.5,451.0 792.5,510.9 792.5,516.4 792.4,519.7 792.3,522.2 792.2,524.2 792.1,525.8 791.9,527.1 791.7,528.3 791.5,529.3 791.2,530.2 791.0,531.0 790.6,531.7 790.3,532.3 789.8,532.9 789.4,533.4 788.8,533.8 788.2,534.2 787.5,534.5 786.7,534.7 785.6,534.9 784.3,535.1 782.6,535.2 779.7,535.3 748.7,535.3 744.4,535.1 740.4,534.6 736.3,533.6 732.3,532.3 728.2,530.7 724.3,528.7 720.4,526.3 716.6,523.6 712.9,520.6 709.4,517.3 706.1,513.7 702.9,509.9 699.9,505.7 697.2,501.4 694.6,496.8 692.3,492.1 690.2,487.2 688.4,482.2 686.9,477.0 685.6,471.8 684.6,466.5 683.9,461.2 683.4,456.0" fill="#ff4808" stroke="rgba(0,40,0,0.22)" stroke-width="0.6"/>
<polygon points="705.0,451.0 705.1,445.4 705.4,440.6 705.9,435.9 706.7,431.5 707.6,427.2 708.7,423.1 710.0,419.2 711.5,415.4 713.2,411.8 715.1,408.4 717.2,405.2 719.4,402.2 721.8,399.4 724.3,396.8 727.0,394.4 729.9,392.2 732.8,390.3 736.0,388.7 739.2,387.3 742.6,386.1 746.1,385.2 749.7,384.5 753.6,384.1 758.0,384.0 765.6,384.1 769.0,384.3 771.5,384.7 773.7,385.2 775.6,385.9 777.3,386.7 778.8,387.7 780.2,388.9 781.5,390.2 782.6,391.7 783.7,393.3 784.7,395.2 785.5,397.2 786.3,399.4 787.0,401.8 787.7,404.5 788.2,407.4 788.7,410.6 789.1,414.1 789.4,418.1 789.7,422.7 789.9,428.1 790.0,435.1 790.0,451.0 790.0,466.6 789.9,473.5 789.7,478.8 789.4,483.3 789.1,487.2 788.7,490.6 788.2,493.8 787.7,496.6 787.0,499.2 786.3,501.6 785.5,503.8 784.7,505.7 783.7,507.5 782.6,509.2 781.5,510.6 780.2,511.9 778.8,513.0 777.3,514.0 775.6,514.8 773.7,515.5 771.5,516.0 769.0,516.4 765.6,516.6 758.0,516.7 753.6,516.6 749.7,516.2 746.1,515.5 742.6,514.7 739.2,513.5 736.0,512.1 732.8,510.5 729.9,508.6 727.0,506.5 724.3,504.2 721.8,501.6 719.4,498.9 717.2,495.9 715.1,492.8 713.2,489.4 711.5,485.9 710.0,482.2 708.7,478.3 707.6,474.3 706.7,470.1 705.9,465.8 705.4,461.2 705.1,456.4" fill="#ff0000" stroke="rgba(0,40,0,0.22)" stroke-width="0.6"/>
<polygon points="612,351.5 804.3,351.5 804.3,358.2 720,357.6 680,356.6 650,354.8" fill="url(#wg)"/>
<polygon points="600,548 804.3,548 804.3,542 720,542.6 680,543.6 640,545.6" fill="url(#wg)"/>
<line x1="790.5" y1="367.5" x2="803.5" y2="352.5" stroke="#f08818" stroke-width="2.2" stroke-opacity="0.85"/>
<line x1="790.5" y1="534.5" x2="803.5" y2="547" stroke="#f08818" stroke-width="2.2" stroke-opacity="0.85"/></g>
</g>
<g filter="url(#bt)">
<rect x="433.0" y="117.50" width="15.0" height="7.30" fill="#ff0000"/>
<rect x="433.0" y="124.50" width="15.0" height="12.37" fill="#ff4808"/>
<rect x="433.0" y="136.57" width="15.0" height="12.37" fill="#ff8808"/>
<rect x="433.0" y="148.64" width="15.0" height="12.37" fill="#ffc800"/>
<rect x="433.0" y="160.71" width="15.0" height="12.37" fill="#ffff00"/>
<rect x="433.0" y="172.78" width="15.0" height="12.37" fill="#c0ff00"/>
<rect x="433.0" y="184.85" width="15.0" height="12.37" fill="#80ff00"/>
<rect x="433.0" y="196.92" width="15.0" height="12.37" fill="#48ff00"/>
<rect x="433.0" y="208.99" width="15.0" height="12.37" fill="#00fc00"/>
<rect x="433.0" y="221.06" width="15.0" height="12.37" fill="#00fc48"/>
<rect x="433.0" y="233.13" width="15.0" height="12.37" fill="#00fc8c"/>
<rect x="433.0" y="245.20" width="15.0" height="12.37" fill="#00fccc"/>
<rect x="433.0" y="257.27" width="15.0" height="12.37" fill="#00f8ff"/>
<rect x="433.0" y="269.34" width="15.0" height="12.37" fill="#10b8f0"/>
<rect x="433.0" y="281.41" width="15.0" height="12.37" fill="#1080f0"/>
<rect x="433.0" y="293.48" width="15.0" height="12.37" fill="#1048f0"/>
<rect x="433.0" y="305.55" width="15.0" height="7.45" fill="#0808c0"/>
<line x1="433.0" y1="124.50" x2="448.0" y2="124.50" stroke="rgba(0,0,0,0.45)" stroke-width="0.9"/>
<line x1="433.0" y1="136.57" x2="448.0" y2="136.57" stroke="rgba(0,0,0,0.45)" stroke-width="0.9"/>
<line x1="433.0" y1="148.64" x2="448.0" y2="148.64" stroke="rgba(0,0,0,0.45)" stroke-width="0.9"/>
<line x1="433.0" y1="160.71" x2="448.0" y2="160.71" stroke="rgba(0,0,0,0.45)" stroke-width="0.9"/>
<line x1="433.0" y1="172.78" x2="448.0" y2="172.78" stroke="rgba(0,0,0,0.45)" stroke-width="0.9"/>
<line x1="433.0" y1="184.85" x2="448.0" y2="184.85" stroke="rgba(0,0,0,0.45)" stroke-width="0.9"/>
<line x1="433.0" y1="196.92" x2="448.0" y2="196.92" stroke="rgba(0,0,0,0.45)" stroke-width="0.9"/>
<line x1="433.0" y1="208.99" x2="448.0" y2="208.99" stroke="rgba(0,0,0,0.45)" stroke-width="0.9"/>
<line x1="433.0" y1="221.06" x2="448.0" y2="221.06" stroke="rgba(0,0,0,0.45)" stroke-width="0.9"/>
<line x1="433.0" y1="233.13" x2="448.0" y2="233.13" stroke="rgba(0,0,0,0.45)" stroke-width="0.9"/>
<line x1="433.0" y1="245.20" x2="448.0" y2="245.20" stroke="rgba(0,0,0,0.45)" stroke-width="0.9"/>
<line x1="433.0" y1="257.27" x2="448.0" y2="257.27" stroke="rgba(0,0,0,0.45)" stroke-width="0.9"/>
<line x1="433.0" y1="269.34" x2="448.0" y2="269.34" stroke="rgba(0,0,0,0.45)" stroke-width="0.9"/>
<line x1="433.0" y1="281.41" x2="448.0" y2="281.41" stroke="rgba(0,0,0,0.45)" stroke-width="0.9"/>
<line x1="433.0" y1="293.48" x2="448.0" y2="293.48" stroke="rgba(0,0,0,0.45)" stroke-width="0.9"/>
<line x1="433.0" y1="305.55" x2="448.0" y2="305.55" stroke="rgba(0,0,0,0.45)" stroke-width="0.9"/>
<rect x="433.3" y="117.80" width="14.4" height="194.60" fill="none" stroke="rgba(0,0,0,0.3)" stroke-width="0.8"/>
<text x="454.2" y="128.20" class="cl">310.0</text>
<text x="454.2" y="140.27" class="cl">309.3</text>
<text x="454.2" y="152.34" class="cl">308.7</text>
<text x="454.2" y="164.41" class="cl">308.0</text>
<text x="454.2" y="176.48" class="cl">307.3</text>
<text x="454.2" y="188.55" class="cl">306.7</text>
<text x="454.2" y="200.62" class="cl">306.0</text>
<text x="454.2" y="212.69" class="cl">305.3</text>
<text x="454.2" y="224.76" class="cl">304.7</text>
<text x="454.2" y="236.83" class="cl">304.0</text>
<text x="454.2" y="248.90" class="cl">303.3</text>
<text x="454.2" y="260.97" class="cl">302.7</text>
<text x="454.2" y="273.04" class="cl">302.0</text>
<text x="454.2" y="285.11" class="cl">301.3</text>
<text x="454.2" y="297.18" class="cl">300.7</text>
<text x="454.2" y="309.25" class="cl">300.0</text>
<rect x="814.5" y="117.50" width="15.0" height="7.30" fill="#ff0000"/>
<rect x="814.5" y="124.50" width="15.0" height="12.37" fill="#ff4808"/>
<rect x="814.5" y="136.57" width="15.0" height="12.37" fill="#ff8808"/>
<rect x="814.5" y="148.64" width="15.0" height="12.37" fill="#ffc800"/>
<rect x="814.5" y="160.71" width="15.0" height="12.37" fill="#ffff00"/>
<rect x="814.5" y="172.78" width="15.0" height="12.37" fill="#c0ff00"/>
<rect x="814.5" y="184.85" width="15.0" height="12.37" fill="#80ff00"/>
<rect x="814.5" y="196.92" width="15.0" height="12.37" fill="#48ff00"/>
<rect x="814.5" y="208.99" width="15.0" height="12.37" fill="#00fc00"/>
<rect x="814.5" y="221.06" width="15.0" height="12.37" fill="#00fc48"/>
<rect x="814.5" y="233.13" width="15.0" height="12.37" fill="#00fc8c"/>
<rect x="814.5" y="245.20" width="15.0" height="12.37" fill="#00fccc"/>
<rect x="814.5" y="257.27" width="15.0" height="12.37" fill="#00f8ff"/>
<rect x="814.5" y="269.34" width="15.0" height="12.37" fill="#10b8f0"/>
<rect x="814.5" y="281.41" width="15.0" height="12.37" fill="#1080f0"/>
<rect x="814.5" y="293.48" width="15.0" height="12.37" fill="#1048f0"/>
<rect x="814.5" y="305.55" width="15.0" height="7.45" fill="#0808c0"/>
<line x1="814.5" y1="124.50" x2="829.5" y2="124.50" stroke="rgba(0,0,0,0.45)" stroke-width="0.9"/>
<line x1="814.5" y1="136.57" x2="829.5" y2="136.57" stroke="rgba(0,0,0,0.45)" stroke-width="0.9"/>
<line x1="814.5" y1="148.64" x2="829.5" y2="148.64" stroke="rgba(0,0,0,0.45)" stroke-width="0.9"/>
<line x1="814.5" y1="160.71" x2="829.5" y2="160.71" stroke="rgba(0,0,0,0.45)" stroke-width="0.9"/>
<line x1="814.5" y1="172.78" x2="829.5" y2="172.78" stroke="rgba(0,0,0,0.45)" stroke-width="0.9"/>
<line x1="814.5" y1="184.85" x2="829.5" y2="184.85" stroke="rgba(0,0,0,0.45)" stroke-width="0.9"/>
<line x1="814.5" y1="196.92" x2="829.5" y2="196.92" stroke="rgba(0,0,0,0.45)" stroke-width="0.9"/>
<line x1="814.5" y1="208.99" x2="829.5" y2="208.99" stroke="rgba(0,0,0,0.45)" stroke-width="0.9"/>
<line x1="814.5" y1="221.06" x2="829.5" y2="221.06" stroke="rgba(0,0,0,0.45)" stroke-width="0.9"/>
<line x1="814.5" y1="233.13" x2="829.5" y2="233.13" stroke="rgba(0,0,0,0.45)" stroke-width="0.9"/>
<line x1="814.5" y1="245.20" x2="829.5" y2="245.20" stroke="rgba(0,0,0,0.45)" stroke-width="0.9"/>
<line x1="814.5" y1="257.27" x2="829.5" y2="257.27" stroke="rgba(0,0,0,0.45)" stroke-width="0.9"/>
<line x1="814.5" y1="269.34" x2="829.5" y2="269.34" stroke="rgba(0,0,0,0.45)" stroke-width="0.9"/>
<line x1="814.5" y1="281.41" x2="829.5" y2="281.41" stroke="rgba(0,0,0,0.45)" stroke-width="0.9"/>
<line x1="814.5" y1="293.48" x2="829.5" y2="293.48" stroke="rgba(0,0,0,0.45)" stroke-width="0.9"/>
<line x1="814.5" y1="305.55" x2="829.5" y2="305.55" stroke="rgba(0,0,0,0.45)" stroke-width="0.9"/>
<rect x="814.8" y="117.80" width="14.4" height="194.60" fill="none" stroke="rgba(0,0,0,0.3)" stroke-width="0.8"/>
<text x="835.7" y="128.20" class="cl">310.0</text>
<text x="835.7" y="140.27" class="cl">309.3</text>
<text x="835.7" y="152.34" class="cl">308.7</text>
<text x="835.7" y="164.41" class="cl">308.0</text>
<text x="835.7" y="176.48" class="cl">307.3</text>
<text x="835.7" y="188.55" class="cl">306.7</text>
<text x="835.7" y="200.62" class="cl">306.0</text>
<text x="835.7" y="212.69" class="cl">305.3</text>
<text x="835.7" y="224.76" class="cl">304.7</text>
<text x="835.7" y="236.83" class="cl">304.0</text>
<text x="835.7" y="248.90" class="cl">303.3</text>
<text x="835.7" y="260.97" class="cl">302.7</text>
<text x="835.7" y="273.04" class="cl">302.0</text>
<text x="835.7" y="285.11" class="cl">301.3</text>
<text x="835.7" y="297.18" class="cl">300.7</text>
<text x="835.7" y="309.25" class="cl">300.0</text>
<rect x="433.0" y="351.50" width="15.0" height="7.30" fill="#ff0000"/>
<rect x="433.0" y="358.50" width="15.0" height="12.37" fill="#ff4808"/>
<rect x="433.0" y="370.57" width="15.0" height="12.37" fill="#ff8808"/>
<rect x="433.0" y="382.64" width="15.0" height="12.37" fill="#ffc800"/>
<rect x="433.0" y="394.71" width="15.0" height="12.37" fill="#ffff00"/>
<rect x="433.0" y="406.78" width="15.0" height="12.37" fill="#c0ff00"/>
<rect x="433.0" y="418.85" width="15.0" height="12.37" fill="#80ff00"/>
<rect x="433.0" y="430.92" width="15.0" height="12.37" fill="#48ff00"/>
<rect x="433.0" y="442.99" width="15.0" height="12.37" fill="#00fc00"/>
<rect x="433.0" y="455.06" width="15.0" height="12.37" fill="#00fc48"/>
<rect x="433.0" y="467.13" width="15.0" height="12.37" fill="#00fc8c"/>
<rect x="433.0" y="479.20" width="15.0" height="12.37" fill="#00fccc"/>
<rect x="433.0" y="491.27" width="15.0" height="12.37" fill="#00f8ff"/>
<rect x="433.0" y="503.34" width="15.0" height="12.37" fill="#10b8f0"/>
<rect x="433.0" y="515.41" width="15.0" height="12.37" fill="#1080f0"/>
<rect x="433.0" y="527.48" width="15.0" height="12.37" fill="#1048f0"/>
<rect x="433.0" y="539.55" width="15.0" height="7.45" fill="#0808c0"/>
<line x1="433.0" y1="358.50" x2="448.0" y2="358.50" stroke="rgba(0,0,0,0.45)" stroke-width="0.9"/>
<line x1="433.0" y1="370.57" x2="448.0" y2="370.57" stroke="rgba(0,0,0,0.45)" stroke-width="0.9"/>
<line x1="433.0" y1="382.64" x2="448.0" y2="382.64" stroke="rgba(0,0,0,0.45)" stroke-width="0.9"/>
<line x1="433.0" y1="394.71" x2="448.0" y2="394.71" stroke="rgba(0,0,0,0.45)" stroke-width="0.9"/>
<line x1="433.0" y1="406.78" x2="448.0" y2="406.78" stroke="rgba(0,0,0,0.45)" stroke-width="0.9"/>
<line x1="433.0" y1="418.85" x2="448.0" y2="418.85" stroke="rgba(0,0,0,0.45)" stroke-width="0.9"/>
<line x1="433.0" y1="430.92" x2="448.0" y2="430.92" stroke="rgba(0,0,0,0.45)" stroke-width="0.9"/>
<line x1="433.0" y1="442.99" x2="448.0" y2="442.99" stroke="rgba(0,0,0,0.45)" stroke-width="0.9"/>
<line x1="433.0" y1="455.06" x2="448.0" y2="455.06" stroke="rgba(0,0,0,0.45)" stroke-width="0.9"/>
<line x1="433.0" y1="467.13" x2="448.0" y2="467.13" stroke="rgba(0,0,0,0.45)" stroke-width="0.9"/>
<line x1="433.0" y1="479.20" x2="448.0" y2="479.20" stroke="rgba(0,0,0,0.45)" stroke-width="0.9"/>
<line x1="433.0" y1="491.27" x2="448.0" y2="491.27" stroke="rgba(0,0,0,0.45)" stroke-width="0.9"/>
<line x1="433.0" y1="503.34" x2="448.0" y2="503.34" stroke="rgba(0,0,0,0.45)" stroke-width="0.9"/>
<line x1="433.0" y1="515.41" x2="448.0" y2="515.41" stroke="rgba(0,0,0,0.45)" stroke-width="0.9"/>
<line x1="433.0" y1="527.48" x2="448.0" y2="527.48" stroke="rgba(0,0,0,0.45)" stroke-width="0.9"/>
<line x1="433.0" y1="539.55" x2="448.0" y2="539.55" stroke="rgba(0,0,0,0.45)" stroke-width="0.9"/>
<rect x="433.3" y="351.80" width="14.4" height="194.60" fill="none" stroke="rgba(0,0,0,0.3)" stroke-width="0.8"/>
<text x="454.2" y="362.20" class="cl">310.0</text>
<text x="454.2" y="374.27" class="cl">309.3</text>
<text x="454.2" y="386.34" class="cl">308.7</text>
<text x="454.2" y="398.41" class="cl">308.0</text>
<text x="454.2" y="410.48" class="cl">307.3</text>
<text x="454.2" y="422.55" class="cl">306.7</text>
<text x="454.2" y="434.62" class="cl">306.0</text>
<text x="454.2" y="446.69" class="cl">305.3</text>
<text x="454.2" y="458.76" class="cl">304.7</text>
<text x="454.2" y="470.83" class="cl">304.0</text>
<text x="454.2" y="482.90" class="cl">303.3</text>
<text x="454.2" y="494.97" class="cl">302.7</text>
<text x="454.2" y="507.04" class="cl">302.0</text>
<text x="454.2" y="519.11" class="cl">301.3</text>
<text x="454.2" y="531.18" class="cl">300.7</text>
<text x="454.2" y="543.25" class="cl">300.0</text>
<rect x="814.5" y="351.50" width="15.0" height="7.30" fill="#ff0000"/>
<rect x="814.5" y="358.50" width="15.0" height="12.37" fill="#ff4808"/>
<rect x="814.5" y="370.57" width="15.0" height="12.37" fill="#ff8808"/>
<rect x="814.5" y="382.64" width="15.0" height="12.37" fill="#ffc800"/>
<rect x="814.5" y="394.71" width="15.0" height="12.37" fill="#ffff00"/>
<rect x="814.5" y="406.78" width="15.0" height="12.37" fill="#c0ff00"/>
<rect x="814.5" y="418.85" width="15.0" height="12.37" fill="#80ff00"/>
<rect x="814.5" y="430.92" width="15.0" height="12.37" fill="#48ff00"/>
<rect x="814.5" y="442.99" width="15.0" height="12.37" fill="#00fc00"/>
<rect x="814.5" y="455.06" width="15.0" height="12.37" fill="#00fc48"/>
<rect x="814.5" y="467.13" width="15.0" height="12.37" fill="#00fc8c"/>
<rect x="814.5" y="479.20" width="15.0" height="12.37" fill="#00fccc"/>
<rect x="814.5" y="491.27" width="15.0" height="12.37" fill="#00f8ff"/>
<rect x="814.5" y="503.34" width="15.0" height="12.37" fill="#10b8f0"/>
<rect x="814.5" y="515.41" width="15.0" height="12.37" fill="#1080f0"/>
<rect x="814.5" y="527.48" width="15.0" height="12.37" fill="#1048f0"/>
<rect x="814.5" y="539.55" width="15.0" height="7.45" fill="#0808c0"/>
<line x1="814.5" y1="358.50" x2="829.5" y2="358.50" stroke="rgba(0,0,0,0.45)" stroke-width="0.9"/>
<line x1="814.5" y1="370.57" x2="829.5" y2="370.57" stroke="rgba(0,0,0,0.45)" stroke-width="0.9"/>
<line x1="814.5" y1="382.64" x2="829.5" y2="382.64" stroke="rgba(0,0,0,0.45)" stroke-width="0.9"/>
<line x1="814.5" y1="394.71" x2="829.5" y2="394.71" stroke="rgba(0,0,0,0.45)" stroke-width="0.9"/>
<line x1="814.5" y1="406.78" x2="829.5" y2="406.78" stroke="rgba(0,0,0,0.45)" stroke-width="0.9"/>
<line x1="814.5" y1="418.85" x2="829.5" y2="418.85" stroke="rgba(0,0,0,0.45)" stroke-width="0.9"/>
<line x1="814.5" y1="430.92" x2="829.5" y2="430.92" stroke="rgba(0,0,0,0.45)" stroke-width="0.9"/>
<line x1="814.5" y1="442.99" x2="829.5" y2="442.99" stroke="rgba(0,0,0,0.45)" stroke-width="0.9"/>
<line x1="814.5" y1="455.06" x2="829.5" y2="455.06" stroke="rgba(0,0,0,0.45)" stroke-width="0.9"/>
<line x1="814.5" y1="467.13" x2="829.5" y2="467.13" stroke="rgba(0,0,0,0.45)" stroke-width="0.9"/>
<line x1="814.5" y1="479.20" x2="829.5" y2="479.20" stroke="rgba(0,0,0,0.45)" stroke-width="0.9"/>
<line x1="814.5" y1="491.27" x2="829.5" y2="491.27" stroke="rgba(0,0,0,0.45)" stroke-width="0.9"/>
<line x1="814.5" y1="503.34" x2="829.5" y2="503.34" stroke="rgba(0,0,0,0.45)" stroke-width="0.9"/>
<line x1="814.5" y1="515.41" x2="829.5" y2="515.41" stroke="rgba(0,0,0,0.45)" stroke-width="0.9"/>
<line x1="814.5" y1="527.48" x2="829.5" y2="527.48" stroke="rgba(0,0,0,0.45)" stroke-width="0.9"/>
<line x1="814.5" y1="539.55" x2="829.5" y2="539.55" stroke="rgba(0,0,0,0.45)" stroke-width="0.9"/>
<rect x="814.8" y="351.80" width="14.4" height="194.60" fill="none" stroke="rgba(0,0,0,0.3)" stroke-width="0.8"/>
<text x="835.7" y="362.20" class="cl">310.0</text>
<text x="835.7" y="374.27" class="cl">309.3</text>
<text x="835.7" y="386.34" class="cl">308.7</text>
<text x="835.7" y="398.41" class="cl">308.0</text>
<text x="835.7" y="410.48" class="cl">307.3</text>
<text x="835.7" y="422.55" class="cl">306.7</text>
<text x="835.7" y="434.62" class="cl">306.0</text>
<text x="835.7" y="446.69" class="cl">305.3</text>
<text x="835.7" y="458.76" class="cl">304.7</text>
<text x="835.7" y="470.83" class="cl">304.0</text>
<text x="835.7" y="482.90" class="cl">303.3</text>
<text x="835.7" y="494.97" class="cl">302.7</text>
<text x="835.7" y="507.04" class="cl">302.0</text>
<text x="835.7" y="519.11" class="cl">301.3</text>
<text x="835.7" y="531.18" class="cl">300.7</text>
<text x="835.7" y="543.25" class="cl">300.0</text>
</g>
<g filter="url(#bk)"><text x="201.0" y="120.9" class="tk" fill-opacity="0.62">301</text><text x="194.2" y="125.3" class="tk" fill-opacity="0.62">301</text><text x="146.7" y="132.0" class="tk" fill-opacity="0.62">303</text><text x="208.9" y="132.0" class="tk" fill-opacity="0.62">303</text><text x="239.4" y="128.0" class="tk" fill-opacity="0.62">302</text><text x="255.6" y="135.2" class="tk" fill-opacity="0.62">304</text><text x="278.9" y="126.8" class="tk" fill-opacity="0.62">303</text><text x="310.6" y="126.8" class="tk" fill-opacity="0.62">302</text><text x="333.6" y="120.1" class="tk" fill-opacity="0.62">301</text><text x="373.2" y="120.1" class="tk" fill-opacity="0.62">301</text><text x="364.4" y="128.0" class="tk" fill-opacity="0.62">302</text><text x="373.2" y="132.0" class="tk" fill-opacity="0.62">303</text><text x="388.2" y="133.2" class="tk" fill-opacity="0.62">303</text><text x="200.2" y="145.8" class="tk" fill-opacity="0.62">304</text><text x="264.3" y="155.7" class="tk" fill-opacity="0.62">305</text><text x="208.9" y="171.6" class="tk" fill-opacity="0.62">305</text><text x="115.8" y="171.6" class="tk" fill-opacity="0.70">302</text><text x="119.8" y="178.3" class="tk" fill-opacity="0.62">301</text><text x="150.7" y="192.6" class="tk" fill-opacity="0.62">304</text><text x="146.7" y="227.0" class="tk" fill-opacity="0.62">304</text><text x="179.2" y="227.0" class="tk" fill-opacity="0.62">305</text><text x="336.3" y="227.0" class="tk" fill-opacity="0.62">305</text><text x="381.9" y="218.3" class="tk" fill-opacity="0.62">305</text><text x="412.7" y="203.3" class="tk" fill-opacity="0.62">301</text><text x="418.7" y="218.3" class="tk" fill-opacity="0.85">302</text><text x="416.7" y="149.8" class="tk" fill-opacity="0.62">301</text><text x="421.5" y="155.7" class="tk" fill-opacity="0.62">302</text><text x="418.7" y="163.7" class="tk" fill-opacity="0.62">302</text><text x="191.8" y="251.9" class="tk" fill-opacity="0.62">305</text><text x="357.3" y="267.8" class="tk" fill-opacity="0.62">305</text><text x="317.7" y="282.4" class="tk" fill-opacity="0.62">305</text><text x="136.8" y="273.7" class="tk" fill-opacity="0.62">302</text><text x="113.9" y="242.8" class="tk" fill-opacity="0.62">30</text><text x="115.8" y="265.8" class="tk" fill-opacity="0.62">302</text><text x="113.9" y="282.4" class="tk" fill-opacity="0.62">30</text><text x="138.4" y="305.0" class="tk" fill-opacity="0.62">301</text><text x="170.5" y="302.2" class="tk" fill-opacity="0.62">302</text><text x="255.6" y="309.3" class="tk" fill-opacity="0.62">303</text><text x="191.8" y="314.9" class="tk" fill-opacity="0.62">301</text><text x="262.3" y="316.1" class="tk" fill-opacity="0.62">301</text><text x="333.6" y="307.0" class="tk" fill-opacity="0.62">302</text><text x="341.5" y="316.1" class="tk" fill-opacity="0.62">301</text><text x="388.2" y="312.1" class="tk" fill-opacity="0.80">302</text><text x="605.9" y="120.9" class="tk" fill-opacity="0.62">301</text><text x="660.1" y="120.9" class="tk" fill-opacity="0.62">302</text><text x="654.2" y="126.1" class="tk" fill-opacity="0.62">303</text><text x="717.5" y="122.1" class="tk" fill-opacity="0.62">303</text><text x="737.3" y="122.1" class="tk" fill-opacity="0.62">302</text><text x="637.2" y="133.2" class="tk" fill-opacity="0.62">304</text><text x="707.6" y="132.0" class="tk" fill-opacity="0.62">304</text><text x="660.1" y="140.7" class="tk" fill-opacity="0.62">305</text><text x="748.0" y="145.1" class="tk" fill-opacity="0.62">305</text><text x="800.7" y="132.0" class="tk" fill-opacity="0.62">302</text><text x="495.8" y="124.1" class="tk" fill-opacity="0.62">301</text><text x="794.7" y="155.0" class="tk" fill-opacity="0.62">303</text><text x="707.6" y="158.9" class="tk" fill-opacity="0.62">305</text><text x="522.4" y="172.8" class="tk" fill-opacity="0.62">303</text><text x="588.9" y="169.6" class="tk" fill-opacity="0.62">305</text><text x="497.8" y="186.6" class="tk" fill-opacity="0.62">302</text><text x="784.8" y="186.6" class="tk" fill-opacity="0.62">304</text><text x="802.6" y="195.3" class="tk" fill-opacity="0.62">302</text><text x="606.7" y="196.1" class="tk" fill-opacity="0.62">305</text><text x="721.5" y="204.0" class="tk" fill-opacity="0.62">306</text><text x="534.6" y="210.4" class="tk" fill-opacity="0.62">304</text><text x="495.0" y="210.4" class="tk" fill-opacity="0.62">30</text><text x="699.7" y="242.0" class="tk" fill-opacity="0.62">306</text><text x="571.8" y="251.9" class="tk" fill-opacity="0.62">305</text><text x="792.7" y="250.0" class="tk" fill-opacity="0.62">304</text><text x="802.6" y="250.0" class="tk" fill-opacity="0.62">302</text><text x="776.9" y="265.4" class="tk" fill-opacity="0.62">303</text><text x="796.7" y="273.3" class="tk" fill-opacity="0.62">303</text><text x="723.5" y="275.7" class="tk" fill-opacity="0.62">305</text><text x="753.2" y="288.4" class="tk" fill-opacity="0.62">305</text><text x="707.6" y="300.2" class="tk" fill-opacity="0.62">304</text><text x="802.6" y="297.1" class="tk" fill-opacity="0.62">302</text><text x="566.3" y="303.0" class="tk" fill-opacity="0.62">303</text><text x="590.8" y="305.4" class="tk" fill-opacity="0.62">303</text><text x="519.6" y="310.9" class="tk" fill-opacity="0.62">304</text><text x="644.3" y="310.9" class="tk" fill-opacity="0.62">303</text><text x="723.5" y="309.0" class="tk" fill-opacity="0.75">304</text><text x="753.2" y="308.2" class="tk" fill-opacity="0.62">303</text><text x="769.0" y="309.0" class="tk" fill-opacity="0.62">302</text><text x="582.1" y="314.9" class="tk" fill-opacity="0.62">301</text><text x="605.9" y="314.1" class="tk" fill-opacity="0.62">302</text><text x="495.0" y="288.4" class="tk" fill-opacity="0.62">30</text><text x="161.4" y="358.9" class="tk" fill-opacity="0.62">305</text><text x="146.7" y="368.0" class="tk" fill-opacity="0.62">303</text><text x="177.2" y="369.2" class="tk" fill-opacity="0.62">303</text><text x="224.7" y="362.9" class="tk" fill-opacity="0.62">303</text><text x="240.5" y="362.9" class="tk" fill-opacity="0.62">302</text><text x="254.4" y="355.4" class="tk" fill-opacity="0.62">301</text><text x="271.0" y="360.1" class="tk" fill-opacity="0.62">303</text><text x="317.7" y="360.1" class="tk" fill-opacity="0.62">302</text><text x="373.2" y="360.1" class="tk" fill-opacity="0.62">302</text><text x="394.9" y="356.2" class="tk" fill-opacity="0.70">303</text><text x="385.0" y="366.1" class="tk" fill-opacity="0.70">304</text><text x="412.7" y="373.2" class="tk" fill-opacity="0.62">304</text><text x="256.4" y="381.9" class="tk" fill-opacity="0.62">305</text><text x="301.9" y="381.9" class="tk" fill-opacity="0.62">306</text><text x="216.8" y="413.6" class="tk" fill-opacity="0.62">305</text><text x="136.8" y="421.5" class="tk" fill-opacity="0.62">303</text><text x="179.2" y="437.3" class="tk" fill-opacity="0.62">305</text><text x="412.7" y="405.6" class="tk" fill-opacity="0.62">305</text><text x="418.7" y="421.5" class="tk" fill-opacity="0.62">303</text><text x="422.6" y="437.3" class="tk" fill-opacity="0.62">302</text><text x="414.7" y="453.1" class="tk" fill-opacity="0.95">303</text><text x="412.7" y="460.3" class="tk" fill-opacity="0.80">302</text><text x="422.6" y="476.9" class="tk" fill-opacity="0.62">302</text><text x="418.7" y="492.7" class="tk" fill-opacity="0.62">303</text><text x="410.8" y="499.9" class="tk" fill-opacity="0.62">305</text><text x="180.4" y="476.9" class="tk" fill-opacity="0.62">305</text><text x="212.0" y="483.6" class="tk" fill-opacity="0.62">305</text><text x="121.8" y="483.6" class="tk" fill-opacity="0.62">303</text><text x="137.6" y="483.6" class="tk" fill-opacity="0.62">303</text><text x="317.7" y="505.8" class="tk" fill-opacity="0.62">306</text><text x="333.6" y="531.5" class="tk" fill-opacity="0.62">306</text><text x="280.1" y="536.3" class="tk" fill-opacity="0.62">305</text><text x="317.7" y="538.3" class="tk" fill-opacity="0.62">305</text><text x="341.5" y="541.4" class="tk" fill-opacity="0.62">305</text><text x="373.2" y="544.2" class="tk" fill-opacity="0.62">304</text><text x="264.3" y="545.0" class="tk" fill-opacity="0.62">303</text><text x="278.1" y="545.0" class="tk" fill-opacity="0.62">302</text><text x="294.0" y="547.4" class="tk" fill-opacity="0.62">301</text><text x="127.7" y="545.0" class="tk" fill-opacity="0.62">302</text><text x="216.8" y="548.2" class="tk" fill-opacity="0.62">302</text><text x="238.6" y="549.0" class="tk" fill-opacity="0.62">302</text><text x="317.7" y="548.2" class="tk" fill-opacity="0.62">301</text><text x="349.4" y="549.0" class="tk" fill-opacity="0.62">301</text><text x="412.7" y="533.1" class="tk" fill-opacity="0.62">305</text><text x="115.8" y="461.1" class="tk" fill-opacity="0.62">30</text><text x="527.5" y="358.1" class="tk" fill-opacity="0.62">301</text><text x="566.3" y="356.9" class="tk" fill-opacity="0.62">301</text><text x="503.8" y="366.1" class="tk" fill-opacity="0.62">302</text><text x="582.9" y="368.0" class="tk" fill-opacity="0.62">304</text><text x="592.8" y="362.9" class="tk" fill-opacity="0.62">303</text><text x="622.5" y="360.1" class="tk" fill-opacity="0.62">303</text><text x="620.5" y="364.9" class="tk" fill-opacity="0.62">304</text><text x="652.2" y="366.1" class="tk" fill-opacity="0.62">305</text><text x="638.4" y="360.9" class="tk" fill-opacity="0.62">30</text><text x="674.0" y="358.1" class="tk" fill-opacity="0.70">307</text><text x="699.7" y="358.1" class="tk" fill-opacity="0.62">302</text><text x="721.5" y="358.1" class="tk" fill-opacity="0.62">304</text><text x="731.4" y="358.1" class="tk" fill-opacity="0.62">303</text><text x="773.0" y="357.3" class="tk" fill-opacity="0.62">307</text><text x="776.9" y="369.2" class="tk" fill-opacity="0.62">309</text><text x="792.7" y="374.0" class="tk" fill-opacity="0.62">303</text><text x="594.0" y="385.8" class="tk" fill-opacity="0.62">305</text><text x="784.8" y="399.7" class="tk" fill-opacity="0.62">310</text><text x="692.6" y="414.7" class="tk" fill-opacity="0.62">309</text><text x="629.2" y="422.7" class="tk" fill-opacity="0.62">307</text><text x="796.7" y="422.7" class="tk" fill-opacity="0.62">308</text><text x="569.1" y="430.2" class="tk" fill-opacity="0.62">306</text><text x="497.8" y="430.2" class="tk" fill-opacity="0.62">302</text><text x="623.3" y="439.3" class="tk" fill-opacity="0.62">307</text><text x="497.8" y="446.0" class="tk" fill-opacity="0.62">302</text><text x="681.9" y="446.0" class="tk" fill-opacity="0.62">309</text><text x="790.8" y="446.0" class="tk" fill-opacity="0.62">310</text><text x="603.9" y="455.1" class="tk" fill-opacity="0.62">307</text><text x="643.5" y="455.1" class="tk" fill-opacity="0.62">308</text><text x="530.7" y="461.1" class="tk" fill-opacity="0.62">304</text><text x="566.3" y="461.1" class="tk" fill-opacity="0.62">305</text><text x="800.7" y="478.1" class="tk" fill-opacity="0.62">307</text><text x="710.8" y="483.6" class="tk" fill-opacity="0.62">310</text><text x="499.8" y="492.7" class="tk" fill-opacity="0.62">303</text><text x="537.4" y="492.7" class="tk" fill-opacity="0.62">304</text><text x="658.1" y="502.6" class="tk" fill-opacity="0.62">308</text><text x="642.3" y="509.8" class="tk" fill-opacity="0.62">307</text><text x="565.1" y="509.8" class="tk" fill-opacity="0.62">305</text><text x="739.3" y="515.3" class="tk" fill-opacity="0.62">310</text><text x="790.8" y="515.3" class="tk" fill-opacity="0.62">309</text><text x="575.0" y="523.6" class="tk" fill-opacity="0.62">305</text><text x="507.7" y="526.4" class="tk" fill-opacity="0.62">303</text><text x="561.2" y="531.5" class="tk" fill-opacity="0.62">304</text><text x="604.7" y="533.5" class="tk" fill-opacity="0.62">305</text><text x="574.2" y="538.3" class="tk" fill-opacity="0.62">304</text><text x="629.6" y="537.5" class="tk" fill-opacity="0.62">306</text><text x="725.4" y="540.2" class="tk" fill-opacity="0.62">307</text><text x="737.3" y="540.2" class="tk" fill-opacity="0.62">308</text><text x="543.3" y="547.4" class="tk" fill-opacity="0.62">302</text><text x="638.4" y="547.4" class="tk" fill-opacity="0.62">307</text><text x="699.7" y="547.4" class="tk" fill-opacity="0.62">305</text><text x="753.2" y="549.0" class="tk" fill-opacity="0.62">306</text><text x="773.0" y="545.0" class="tk" fill-opacity="0.62">308</text></g>
</svg>
<div class="t" style="left:254.4px;top:325px">a</div><div class="t" style="left:265px;top:325px">)</div><div class="t" style="left:283.2px;top:325px">0</div>
<div class="t" style="left:654.4px;top:325px">b</div><div class="t" style="left:665px;top:325px">)</div><div class="t" style="left:683.2px;top:325px">1</div>
<div class="t" style="left:254.4px;top:560px">c</div><div class="t" style="left:265px;top:560px">)</div><div class="t" style="left:283.2px;top:560px">2</div>
<div class="t" style="left:654.4px;top:560px">d</div><div class="t" style="left:665px;top:560px">)</div><div class="t" style="left:683.2px;top:560px">3</div>
<div class="t cap" style="left:342.3px;top:594.3px">图</div>
<div class="t cap" style="left:366.5px;top:594.3px">4</div>
<div class="t cap" style="left:379.5px;top:594.3px">.</div>
<div class="t cap" style="left:385.7px;top:594.3px">1</div>
<div class="t cap" style="left:395.6px;top:594.3px">0</div>
<div class="t cap" style="left:415.8px;top:594.3px">空气侧进口气流温度分布</div>
<div class="pg">18</div>
<div class="wm">中国汽车工程师之家</div>
<div class="url">www.cartech8.com</div>
</body></html>
